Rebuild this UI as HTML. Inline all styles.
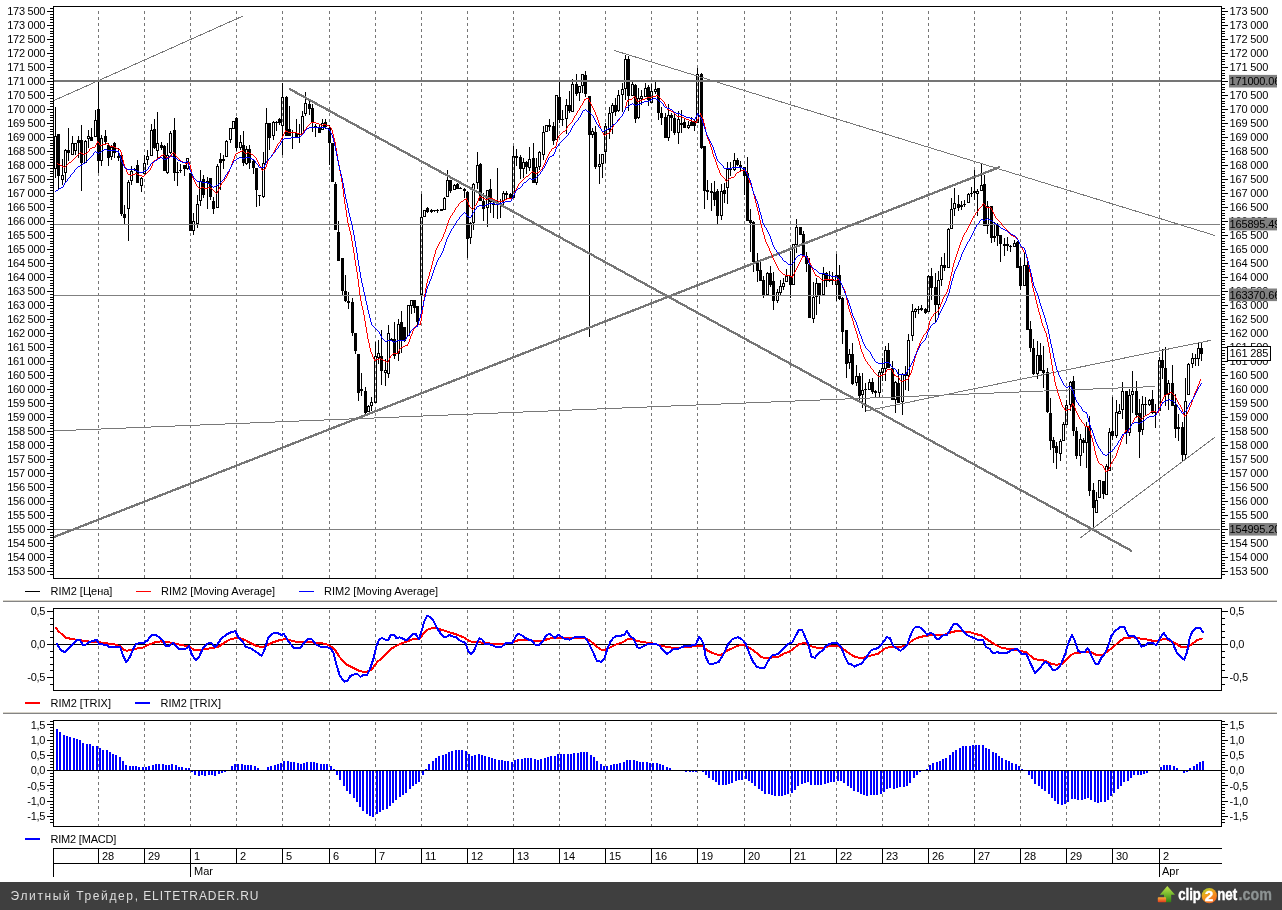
<!DOCTYPE html><html><head><meta charset="utf-8"><title>chart</title><style>
html,body{margin:0;padding:0;background:#fff;}body{width:1282px;height:910px;overflow:hidden;position:relative;font-family:"Liberation Sans",sans-serif;}
svg{position:absolute;left:0;top:0;display:block}#main{will-change:transform}
text{font-family:"Liberation Sans",sans-serif;font-size:11px;fill:#000;letter-spacing:-0.15px}
.l{letter-spacing:0}.m{letter-spacing:-0.2px}
</style></head><body>
<svg id="main" width="1282" height="910" viewBox="0 0 1282 910">
<path d="M98.5 11V578M144.5 11V578M190.5 11V578M236.5 11V578M282.5 11V578M329.5 11V578M375.5 11V578M421.5 11V578M467.5 11V578M513.5 11V578M559.5 11V578M605.5 11V578M651.5 11V578M697.5 11V578M744.5 11V578M790.5 11V578M836.5 11V578M882.5 11V578M928.5 11V578M974.5 11V578M1020.5 11V578M1066.5 11V578M1112.5 11V578M1159.5 11V578" stroke="#767676" stroke-width="1" stroke-dasharray="3 3" fill="none" shape-rendering="crispEdges"/>
<g shape-rendering="crispEdges"><path d="M55 107h1v29h-1zM55 169h1v9h-1zM58 176h1v13h-1zM62 159h1v16h-1zM62 180h1v5h-1zM65 149h1v1h-1zM65 173h1v9h-1zM68 128h1v22h-1zM68 153h1v8h-1zM72 136h1v7h-1zM75 151h1v4h-1zM78 136h1v4h-1zM78 143h1v15h-1zM81 125h1v15h-1zM81 163h1v28h-1zM85 140h1v1h-1zM88 130h1v6h-1zM88 139h1v9h-1zM91 128h1v9h-1zM95 110h1v10h-1zM98 81h1v28h-1zM98 161h1v12h-1zM101 135h1v3h-1zM101 161h1v5h-1zM105 130h1v6h-1zM105 142h1v3h-1zM108 143h1v2h-1zM108 158h1v8h-1zM111 145h1v2h-1zM111 157h1v3h-1zM114 142h1v1h-1zM114 153h1v5h-1zM118 148h1v8h-1zM118 158h1v3h-1zM121 214h1v2h-1zM124 205h1v9h-1zM124 218h1v6h-1zM128 180h1v2h-1zM128 209h1v32h-1zM131 166h1v5h-1zM131 181h1v4h-1zM134 168h1v1h-1zM134 170h1v1h-1zM137 160h1v5h-1zM141 177h1v1h-1zM141 186h1v6h-1zM144 155h1v8h-1zM147 150h1v6h-1zM147 160h1v5h-1zM151 124h1v6h-1zM154 119h1v10h-1zM154 148h1v1h-1zM157 112h1v31h-1zM157 151h1v7h-1zM161 142h1v3h-1zM161 148h1v2h-1zM164 145h1v1h-1zM167 143h1v12h-1zM167 173h1v1h-1zM170 131h1v2h-1zM170 153h1v1h-1zM174 118h1v12h-1zM174 173h1v8h-1zM177 162h1v10h-1zM177 173h1v13h-1zM180 164h1v6h-1zM180 171h1v2h-1zM184 169h1v7h-1zM187 169h1v1h-1zM193 213h1v8h-1zM193 231h1v4h-1zM197 195h1v9h-1zM197 224h1v4h-1zM200 170h1v11h-1zM200 201h1v5h-1zM203 175h1v4h-1zM203 195h1v3h-1zM207 177h1v4h-1zM207 183h1v26h-1zM210 197h1v3h-1zM213 197h1v4h-1zM213 209h1v5h-1zM217 164h1v2h-1zM220 153h1v6h-1zM220 163h1v27h-1zM223 155h1v4h-1zM223 161h1v8h-1zM226 140h1v1h-1zM230 140h1v3h-1zM236 117h1v1h-1zM236 148h1v3h-1zM240 135h1v7h-1zM240 148h1v2h-1zM243 131h1v14h-1zM243 163h1v3h-1zM246 146h1v3h-1zM246 164h1v1h-1zM249 145h1v4h-1zM249 163h1v6h-1zM253 159h1v2h-1zM253 168h1v6h-1zM256 190h1v17h-1zM259 196h1v10h-1zM263 152h1v11h-1zM263 197h1v1h-1zM266 108h1v15h-1zM269 138h1v12h-1zM273 121h1v1h-1zM273 136h1v4h-1zM276 121h1v1h-1zM276 123h1v8h-1zM279 118h1v1h-1zM279 123h1v2h-1zM282 83h1v14h-1zM282 126h1v29h-1zM286 96h1v1h-1zM289 106h1v23h-1zM292 130h1v2h-1zM292 133h1v16h-1zM296 119h1v14h-1zM299 124h1v10h-1zM299 135h1v8h-1zM302 111h1v5h-1zM305 92h1v11h-1zM305 114h1v2h-1zM309 101h1v3h-1zM309 109h1v6h-1zM312 104h1v4h-1zM312 123h1v9h-1zM315 124h1v2h-1zM315 128h1v9h-1zM319 125h1v3h-1zM322 119h1v4h-1zM325 119h1v3h-1zM325 127h1v2h-1zM329 125h1v3h-1zM329 143h1v22h-1zM335 182h1v2h-1zM338 221h1v11h-1zM342 291h1v4h-1zM345 275h1v16h-1zM345 301h1v1h-1zM348 292h1v9h-1zM348 303h1v6h-1zM352 298h1v4h-1zM352 333h1v3h-1zM355 351h1v3h-1zM358 393h1v8h-1zM361 373h1v16h-1zM361 391h1v5h-1zM365 387h1v4h-1zM365 413h1v1h-1zM368 405h1v1h-1zM371 397h1v5h-1zM371 406h1v5h-1zM375 342h1v14h-1zM378 340h1v13h-1zM378 358h1v6h-1zM381 330h1v26h-1zM381 371h1v14h-1zM385 359h1v11h-1zM385 373h1v13h-1zM388 325h1v8h-1zM388 374h1v4h-1zM391 338h1v1h-1zM394 322h1v17h-1zM394 356h1v3h-1zM398 319h1v5h-1zM398 354h1v7h-1zM401 311h1v11h-1zM401 340h1v13h-1zM404 341h1v1h-1zM411 306h1v8h-1zM414 308h1v5h-1zM417 322h1v3h-1zM421 194h1v23h-1zM421 295h1v16h-1zM427 207h1v1h-1zM427 212h1v1h-1zM431 209h1v1h-1zM431 212h1v1h-1zM434 211h1v1h-1zM437 209h1v1h-1zM437 211h1v2h-1zM444 197h1v1h-1zM447 170h1v10h-1zM450 191h1v2h-1zM454 184h1v1h-1zM457 183h1v1h-1zM460 187h1v1h-1zM464 188h1v1h-1zM464 191h1v7h-1zM467 191h1v1h-1zM467 239h1v19h-1zM470 222h1v1h-1zM470 238h1v6h-1zM473 183h1v1h-1zM473 223h1v7h-1zM477 152h1v13h-1zM477 183h1v6h-1zM480 163h1v1h-1zM483 193h1v8h-1zM483 209h1v12h-1zM487 208h1v19h-1zM490 179h1v10h-1zM490 202h1v11h-1zM493 201h1v2h-1zM493 205h1v13h-1zM497 168h1v33h-1zM497 205h1v14h-1zM500 199h1v2h-1zM500 202h1v16h-1zM503 191h1v2h-1zM503 201h1v4h-1zM506 191h1v2h-1zM506 195h1v4h-1zM510 193h1v1h-1zM513 146h1v10h-1zM516 149h1v7h-1zM516 158h1v8h-1zM520 155h1v2h-1zM520 169h1v10h-1zM523 158h1v4h-1zM523 169h1v9h-1zM526 161h1v1h-1zM526 167h1v7h-1zM529 147h1v12h-1zM529 168h1v3h-1zM533 143h1v15h-1zM536 158h1v9h-1zM536 183h1v2h-1zM539 151h1v1h-1zM539 167h1v3h-1zM543 126h1v6h-1zM543 155h1v5h-1zM549 119h1v6h-1zM549 127h1v4h-1zM553 122h1v4h-1zM553 141h1v4h-1zM559 82h1v15h-1zM559 120h1v3h-1zM562 110h1v9h-1zM562 120h1v6h-1zM566 99h1v6h-1zM566 119h1v15h-1zM569 91h1v14h-1zM569 111h1v2h-1zM572 79h1v5h-1zM576 74h1v10h-1zM576 94h1v2h-1zM579 93h1v8h-1zM582 86h1v7h-1zM585 71h1v4h-1zM585 94h1v3h-1zM589 135h1v202h-1zM592 128h1v3h-1zM592 135h1v3h-1zM595 126h1v6h-1zM595 167h1v2h-1zM599 154h1v10h-1zM599 167h1v17h-1zM602 164h1v14h-1zM605 123h1v3h-1zM605 152h1v11h-1zM609 107h1v6h-1zM609 130h1v9h-1zM612 103h1v2h-1zM612 113h1v21h-1zM615 98h1v7h-1zM615 112h1v4h-1zM618 90h1v5h-1zM618 111h1v1h-1zM622 83h1v6h-1zM622 95h1v17h-1zM625 55h1v4h-1zM625 89h1v11h-1zM628 56h1v3h-1zM628 96h1v15h-1zM632 82h1v2h-1zM635 84h1v1h-1zM635 119h1v4h-1zM638 88h1v10h-1zM638 118h1v1h-1zM641 90h1v6h-1zM641 99h1v6h-1zM645 83h1v5h-1zM648 85h1v2h-1zM648 100h1v6h-1zM651 84h1v7h-1zM655 82h1v7h-1zM655 92h1v2h-1zM658 113h1v7h-1zM661 107h1v6h-1zM661 118h1v7h-1zM665 113h1v4h-1zM668 104h1v11h-1zM668 138h1v3h-1zM671 113h1v2h-1zM671 118h1v13h-1zM674 114h1v4h-1zM674 133h1v2h-1zM678 111h1v8h-1zM678 133h1v11h-1zM681 110h1v13h-1zM681 125h1v8h-1zM684 118h1v4h-1zM688 121h1v4h-1zM688 128h1v1h-1zM691 117h1v5h-1zM694 120h1v1h-1zM694 126h1v5h-1zM697 68h1v6h-1zM701 73h1v1h-1zM701 148h1v1h-1zM704 191h1v18h-1zM707 180h1v10h-1zM707 192h1v8h-1zM711 183h1v8h-1zM711 193h1v18h-1zM714 181h1v11h-1zM714 200h1v6h-1zM717 189h1v2h-1zM717 216h1v8h-1zM721 184h1v7h-1zM721 216h1v4h-1zM724 183h1v7h-1zM724 194h1v9h-1zM727 162h1v7h-1zM727 188h1v16h-1zM730 162h1v6h-1zM730 170h1v6h-1zM734 153h1v7h-1zM734 170h1v1h-1zM737 158h1v2h-1zM737 165h1v1h-1zM740 161h1v4h-1zM740 167h1v4h-1zM744 176h1v19h-1zM747 157h1v16h-1zM750 209h1v11h-1zM750 223h1v29h-1zM753 221h1v1h-1zM753 262h1v10h-1zM757 253h1v9h-1zM757 271h1v11h-1zM760 262h1v8h-1zM763 276h1v4h-1zM763 295h1v3h-1zM767 272h1v1h-1zM770 266h1v7h-1zM770 285h1v2h-1zM773 272h1v9h-1zM773 301h1v9h-1zM777 289h1v3h-1zM777 301h1v2h-1zM780 280h1v6h-1zM780 293h1v2h-1zM783 278h1v5h-1zM783 287h1v3h-1zM786 269h1v7h-1zM790 251h1v25h-1zM790 285h1v13h-1zM796 219h1v8h-1zM796 245h1v8h-1zM803 231h1v3h-1zM806 252h1v4h-1zM806 264h1v8h-1zM809 258h1v6h-1zM813 282h1v15h-1zM813 319h1v4h-1zM816 278h1v5h-1zM816 297h1v18h-1zM819 295h1v9h-1zM823 267h1v7h-1zM826 272h1v1h-1zM826 281h1v6h-1zM829 271h1v8h-1zM829 281h1v1h-1zM832 272h1v7h-1zM832 281h1v4h-1zM836 254h1v21h-1zM836 285h1v16h-1zM839 265h1v10h-1zM839 299h1v1h-1zM842 297h1v1h-1zM842 332h1v12h-1zM846 364h1v14h-1zM849 349h1v5h-1zM849 363h1v6h-1zM852 343h1v11h-1zM852 384h1v1h-1zM856 365h1v11h-1zM856 383h1v3h-1zM859 373h1v3h-1zM859 396h1v5h-1zM862 373h1v17h-1zM862 395h1v13h-1zM865 383h1v6h-1zM865 390h1v22h-1zM869 379h1v3h-1zM872 378h1v4h-1zM872 392h1v2h-1zM875 390h1v1h-1zM875 393h1v4h-1zM879 370h1v2h-1zM879 393h1v5h-1zM882 358h1v10h-1zM882 373h1v8h-1zM885 346h1v4h-1zM885 369h1v12h-1zM888 343h1v7h-1zM892 361h1v7h-1zM895 381h1v1h-1zM895 400h1v13h-1zM898 369h1v14h-1zM902 373h1v1h-1zM902 402h1v13h-1zM905 366h1v8h-1zM905 376h1v14h-1zM908 334h1v6h-1zM908 376h1v15h-1zM912 304h1v7h-1zM912 336h1v5h-1zM915 308h1v1h-1zM915 312h1v6h-1zM918 306h1v3h-1zM918 310h1v4h-1zM921 305h1v3h-1zM921 310h1v1h-1zM925 308h1v1h-1zM925 313h1v1h-1zM928 275h1v1h-1zM931 268h1v8h-1zM931 288h1v12h-1zM935 273h1v14h-1zM935 305h1v17h-1zM938 271h1v9h-1zM938 305h1v11h-1zM941 257h1v8h-1zM941 280h1v6h-1zM944 253h1v12h-1zM944 268h1v3h-1zM948 228h1v1h-1zM951 198h1v11h-1zM954 188h1v15h-1zM954 209h1v7h-1zM958 195h1v9h-1zM958 208h1v3h-1zM961 201h1v4h-1zM961 207h1v3h-1zM964 200h1v4h-1zM964 205h1v2h-1zM968 193h1v1h-1zM971 187h1v6h-1zM971 194h1v3h-1zM974 170h1v21h-1zM974 193h1v7h-1zM977 189h1v2h-1zM977 194h1v22h-1zM981 164h1v21h-1zM984 175h1v9h-1zM987 201h1v5h-1zM987 226h1v8h-1zM991 238h1v5h-1zM994 222h1v14h-1zM994 238h1v4h-1zM997 223h1v1h-1zM997 236h1v10h-1zM1000 244h1v18h-1zM1004 238h1v6h-1zM1004 246h1v10h-1zM1007 237h1v7h-1zM1007 246h1v5h-1zM1010 245h1v1h-1zM1010 247h1v5h-1zM1014 240h1v3h-1zM1017 241h1v1h-1zM1020 258h1v8h-1zM1020 286h1v4h-1zM1024 253h1v12h-1zM1027 261h1v4h-1zM1030 321h1v8h-1zM1030 348h1v4h-1zM1033 339h1v9h-1zM1033 374h1v1h-1zM1037 341h1v14h-1zM1037 374h1v5h-1zM1040 343h1v12h-1zM1043 346h1v24h-1zM1043 373h1v15h-1zM1047 368h1v4h-1zM1047 412h1v1h-1zM1050 398h1v15h-1zM1050 441h1v9h-1zM1053 437h1v3h-1zM1053 448h1v15h-1zM1056 442h1v4h-1zM1056 453h1v16h-1zM1060 439h1v2h-1zM1060 454h1v7h-1zM1063 422h1v2h-1zM1066 400h1v5h-1zM1070 381h1v1h-1zM1070 405h1v6h-1zM1073 376h1v5h-1zM1073 431h1v5h-1zM1076 427h1v4h-1zM1076 456h1v3h-1zM1080 434h1v5h-1zM1080 456h1v10h-1zM1083 438h1v2h-1zM1083 443h1v10h-1zM1086 422h1v4h-1zM1086 443h1v25h-1zM1089 416h1v10h-1zM1089 491h1v5h-1zM1093 483h1v7h-1zM1093 508h1v20h-1zM1096 492h1v8h-1zM1103 494h1v5h-1zM1106 464h1v2h-1zM1109 428h1v4h-1zM1112 397h1v34h-1zM1112 436h1v4h-1zM1116 400h1v12h-1zM1116 436h1v2h-1zM1119 404h1v7h-1zM1122 382h1v9h-1zM1122 410h1v9h-1zM1126 433h1v11h-1zM1129 389h1v6h-1zM1129 433h1v3h-1zM1132 371h1v20h-1zM1132 395h1v18h-1zM1136 381h1v10h-1zM1136 415h1v3h-1zM1139 399h1v14h-1zM1139 432h1v26h-1zM1142 396h1v8h-1zM1142 430h1v5h-1zM1145 397h1v7h-1zM1145 405h1v10h-1zM1149 399h1v1h-1zM1149 405h1v1h-1zM1152 390h1v9h-1zM1152 413h1v1h-1zM1155 404h1v8h-1zM1155 413h1v15h-1zM1159 357h1v3h-1zM1162 349h1v11h-1zM1162 368h1v11h-1zM1165 347h1v21h-1zM1165 395h1v11h-1zM1168 380h1v3h-1zM1168 395h1v15h-1zM1172 365h1v18h-1zM1175 394h1v11h-1zM1175 429h1v9h-1zM1178 414h1v13h-1zM1178 429h1v12h-1zM1182 422h1v5h-1zM1182 455h1v6h-1zM1185 378h1v23h-1zM1185 455h1v4h-1zM1188 363h1v1h-1zM1192 353h1v5h-1zM1192 364h1v4h-1zM1195 354h1v4h-1zM1195 359h1v7h-1zM1198 343h1v5h-1zM1198 359h1v7h-1zM1201 343h1v5h-1zM1201 354h1v7h-1z" fill="#000"/><path d="M54 136h3v1h-3zM54 168h3v1h-3zM54 137h1v31h-1zM56 137h1v31h-1zM57 134h3v42h-3zM61 175h3v1h-3zM61 179h3v1h-3zM61 176h1v3h-1zM63 176h1v3h-1zM64 150h3v1h-3zM64 172h3v1h-3zM64 151h1v21h-1zM66 151h1v21h-1zM67 150h3v3h-3zM71 143h3v1h-3zM71 154h3v1h-3zM71 144h1v10h-1zM73 144h1v10h-1zM74 143h3v1h-3zM74 150h3v1h-3zM74 144h1v6h-1zM76 144h1v6h-1zM77 140h3v3h-3zM80 140h3v23h-3zM84 141h3v1h-3zM84 162h3v1h-3zM84 142h1v20h-1zM86 142h1v20h-1zM87 136h3v1h-3zM87 138h3v1h-3zM87 137h1v1h-1zM89 137h1v1h-1zM90 137h3v4h-3zM94 120h3v1h-3zM94 136h3v1h-3zM94 121h1v15h-1zM96 121h1v15h-1zM97 109h3v52h-3zM100 138h3v1h-3zM100 160h3v1h-3zM100 139h1v21h-1zM102 139h1v21h-1zM104 136h3v6h-3zM107 145h3v13h-3zM110 147h3v1h-3zM110 156h3v1h-3zM110 148h1v8h-1zM112 148h1v8h-1zM113 143h3v10h-3zM117 156h3v2h-3zM120 155h3v59h-3zM123 214h3v4h-3zM127 182h3v1h-3zM127 208h3v1h-3zM127 183h1v25h-1zM129 183h1v25h-1zM130 171h3v1h-3zM130 180h3v1h-3zM130 172h1v8h-1zM132 172h1v8h-1zM133 169h3v1h-3zM136 165h3v18h-3zM140 178h3v1h-3zM140 185h3v1h-3zM140 179h1v6h-1zM142 179h1v6h-1zM143 163h3v1h-3zM143 173h3v1h-3zM143 164h1v9h-1zM145 164h1v9h-1zM146 156h3v1h-3zM146 159h3v1h-3zM146 157h1v2h-1zM148 157h1v2h-1zM150 130h3v1h-3zM150 155h3v1h-3zM150 131h1v24h-1zM152 131h1v24h-1zM153 129h3v19h-3zM156 143h3v1h-3zM156 150h3v1h-3zM156 144h1v6h-1zM158 144h1v6h-1zM160 145h3v3h-3zM163 146h3v25h-3zM166 155h3v1h-3zM166 172h3v1h-3zM166 156h1v16h-1zM168 156h1v16h-1zM169 133h3v1h-3zM169 152h3v1h-3zM169 134h1v18h-1zM171 134h1v18h-1zM173 130h3v43h-3zM176 172h3v1h-3zM179 170h3v1h-3zM183 165h3v4h-3zM186 158h3v1h-3zM186 168h3v1h-3zM186 159h1v9h-1zM188 159h1v9h-1zM189 173h3v58h-3zM192 221h3v1h-3zM192 230h3v1h-3zM192 222h1v8h-1zM194 222h1v8h-1zM196 204h3v1h-3zM196 223h3v1h-3zM196 205h1v18h-1zM198 205h1v18h-1zM199 181h3v1h-3zM199 200h3v1h-3zM199 182h1v18h-1zM201 182h1v18h-1zM202 179h3v16h-3zM206 181h3v2h-3zM209 178h3v19h-3zM212 201h3v8h-3zM216 166h3v1h-3zM216 207h3v1h-3zM216 167h1v40h-1zM218 167h1v40h-1zM219 159h3v4h-3zM222 159h3v2h-3zM225 141h3v1h-3zM225 156h3v1h-3zM225 142h1v14h-1zM227 142h1v14h-1zM229 128h3v1h-3zM229 139h3v1h-3zM229 129h1v10h-1zM231 129h1v10h-1zM232 121h3v1h-3zM232 128h3v1h-3zM232 122h1v6h-1zM234 122h1v6h-1zM235 118h3v30h-3zM239 142h3v1h-3zM239 147h3v1h-3zM239 143h1v4h-1zM241 143h1v4h-1zM242 145h3v18h-3zM245 149h3v1h-3zM245 163h3v1h-3zM245 150h1v13h-1zM247 150h1v13h-1zM248 149h3v14h-3zM252 161h3v7h-3zM255 168h3v22h-3zM258 195h3v1h-3zM262 163h3v1h-3zM262 196h3v1h-3zM262 164h1v32h-1zM264 164h1v32h-1zM265 123h3v1h-3zM265 162h3v1h-3zM265 124h1v38h-1zM267 124h1v38h-1zM268 123h3v15h-3zM272 122h3v1h-3zM272 135h3v1h-3zM272 123h1v12h-1zM274 123h1v12h-1zM275 122h3v1h-3zM278 119h3v4h-3zM281 97h3v1h-3zM281 125h3v1h-3zM281 98h1v27h-1zM283 98h1v27h-1zM285 97h3v39h-3zM288 129h3v7h-3zM291 132h3v1h-3zM295 133h3v5h-3zM298 134h3v1h-3zM301 116h3v1h-3zM301 133h3v1h-3zM301 117h1v16h-1zM303 117h1v16h-1zM304 103h3v1h-3zM304 113h3v1h-3zM304 104h1v9h-1zM306 104h1v9h-1zM308 104h3v5h-3zM311 108h3v15h-3zM314 126h3v2h-3zM318 128h3v5h-3zM321 123h3v1h-3zM321 129h3v1h-3zM321 124h1v5h-1zM323 124h1v5h-1zM324 122h3v5h-3zM328 128h3v15h-3zM331 143h3v39h-3zM334 184h3v46h-3zM337 232h3v29h-3zM341 258h3v33h-3zM344 291h3v10h-3zM347 301h3v2h-3zM351 302h3v31h-3zM354 333h3v18h-3zM357 354h3v39h-3zM360 389h3v2h-3zM364 391h3v22h-3zM367 406h3v1h-3zM367 411h3v1h-3zM367 407h1v4h-1zM369 407h1v4h-1zM370 402h3v1h-3zM370 405h3v1h-3zM370 403h1v2h-1zM372 403h1v2h-1zM374 356h3v1h-3zM374 402h3v1h-3zM374 357h1v45h-1zM376 357h1v45h-1zM377 353h3v1h-3zM377 357h3v1h-3zM377 354h1v3h-1zM379 354h1v3h-1zM380 356h3v15h-3zM384 370h3v1h-3zM384 372h3v1h-3zM384 371h1v1h-1zM386 371h1v1h-1zM387 333h3v1h-3zM387 373h3v1h-3zM387 334h1v39h-1zM389 334h1v39h-1zM390 339h3v2h-3zM393 339h3v17h-3zM397 324h3v1h-3zM397 353h3v1h-3zM397 325h1v28h-1zM399 325h1v28h-1zM400 322h3v18h-3zM403 327h3v14h-3zM407 305h3v1h-3zM407 335h3v1h-3zM407 306h1v29h-1zM409 306h1v29h-1zM410 300h3v1h-3zM410 305h3v1h-3zM410 301h1v4h-1zM412 301h1v4h-1zM413 300h3v8h-3zM416 306h3v16h-3zM420 217h3v1h-3zM420 294h3v1h-3zM420 218h1v76h-1zM422 218h1v76h-1zM423 210h3v1h-3zM423 216h3v1h-3zM423 211h1v5h-1zM425 211h1v5h-1zM426 208h3v4h-3zM430 210h3v2h-3zM433 210h3v1h-3zM436 210h3v1h-3zM440 209h3v2h-3zM443 198h3v1h-3zM443 209h3v1h-3zM443 199h1v10h-1zM445 199h1v10h-1zM446 180h3v1h-3zM446 196h3v1h-3zM446 181h1v15h-1zM448 181h1v15h-1zM449 180h3v11h-3zM453 185h3v1h-3zM453 189h3v1h-3zM453 186h1v3h-1zM455 186h1v3h-1zM456 184h3v5h-3zM459 188h3v1h-3zM463 189h3v2h-3zM466 192h3v47h-3zM469 223h3v1h-3zM469 237h3v1h-3zM469 224h1v13h-1zM471 224h1v13h-1zM472 184h3v1h-3zM472 222h3v1h-3zM472 185h1v37h-1zM474 185h1v37h-1zM476 165h3v1h-3zM476 182h3v1h-3zM476 166h1v16h-1zM478 166h1v16h-1zM479 164h3v37h-3zM482 201h3v8h-3zM486 190h3v1h-3zM486 207h3v1h-3zM486 191h1v16h-1zM488 191h1v16h-1zM489 189h3v13h-3zM492 203h3v2h-3zM496 201h3v4h-3zM499 201h3v1h-3zM502 193h3v1h-3zM502 200h3v1h-3zM502 194h1v6h-1zM504 194h1v6h-1zM505 193h3v2h-3zM509 194h3v5h-3zM512 156h3v1h-3zM512 197h3v1h-3zM512 157h1v40h-1zM514 157h1v40h-1zM515 156h3v2h-3zM519 157h3v12h-3zM522 162h3v1h-3zM522 168h3v1h-3zM522 163h1v5h-1zM524 163h1v5h-1zM525 162h3v5h-3zM528 159h3v1h-3zM528 167h3v1h-3zM528 160h1v7h-1zM530 160h1v7h-1zM532 158h3v25h-3zM535 167h3v1h-3zM535 182h3v1h-3zM535 168h1v14h-1zM537 168h1v14h-1zM538 152h3v1h-3zM538 166h3v1h-3zM538 153h1v13h-1zM540 153h1v13h-1zM542 132h3v1h-3zM542 154h3v1h-3zM542 133h1v21h-1zM544 133h1v21h-1zM545 125h3v1h-3zM545 131h3v1h-3zM545 126h1v5h-1zM547 126h1v5h-1zM548 125h3v2h-3zM552 126h3v15h-3zM555 95h3v1h-3zM555 139h3v1h-3zM555 96h1v43h-1zM557 96h1v43h-1zM558 97h3v23h-3zM561 119h3v1h-3zM565 105h3v1h-3zM565 118h3v1h-3zM565 106h1v12h-1zM567 106h1v12h-1zM568 105h3v6h-3zM571 84h3v1h-3zM571 111h3v1h-3zM571 85h1v26h-1zM573 85h1v26h-1zM575 84h3v10h-3zM578 86h3v1h-3zM578 92h3v1h-3zM578 87h1v5h-1zM580 87h1v5h-1zM581 74h3v1h-3zM581 85h3v1h-3zM581 75h1v10h-1zM583 75h1v10h-1zM584 75h3v19h-3zM588 96h3v39h-3zM591 131h3v1h-3zM591 134h3v1h-3zM591 132h1v2h-1zM593 132h1v2h-1zM594 132h3v35h-3zM598 164h3v1h-3zM598 166h3v1h-3zM598 165h1v1h-1zM600 165h1v1h-1zM601 154h3v1h-3zM601 163h3v1h-3zM601 155h1v8h-1zM603 155h1v8h-1zM604 126h3v1h-3zM604 151h3v1h-3zM604 127h1v24h-1zM606 127h1v24h-1zM608 113h3v1h-3zM608 129h3v1h-3zM608 114h1v15h-1zM610 114h1v15h-1zM611 105h3v1h-3zM611 112h3v1h-3zM611 106h1v6h-1zM613 106h1v6h-1zM614 105h3v7h-3zM617 95h3v1h-3zM617 110h3v1h-3zM617 96h1v14h-1zM619 96h1v14h-1zM621 89h3v1h-3zM621 94h3v1h-3zM621 90h1v4h-1zM623 90h1v4h-1zM624 59h3v1h-3zM624 88h3v1h-3zM624 60h1v28h-1zM626 60h1v28h-1zM627 59h3v37h-3zM631 84h3v1h-3zM631 95h3v1h-3zM631 85h1v10h-1zM633 85h1v10h-1zM634 85h3v34h-3zM637 98h3v1h-3zM637 117h3v1h-3zM637 99h1v18h-1zM639 99h1v18h-1zM640 96h3v1h-3zM640 98h3v1h-3zM640 97h1v1h-1zM642 97h1v1h-1zM644 88h3v1h-3zM644 96h3v1h-3zM644 89h1v7h-1zM646 89h1v7h-1zM647 87h3v13h-3zM650 91h3v1h-3zM650 102h3v1h-3zM650 92h1v10h-1zM652 92h1v10h-1zM654 89h3v1h-3zM654 91h3v1h-3zM654 90h1v1h-1zM656 90h1v1h-1zM657 88h3v25h-3zM660 113h3v5h-3zM664 117h3v21h-3zM667 115h3v1h-3zM667 137h3v1h-3zM667 116h1v21h-1zM669 116h1v21h-1zM670 115h3v3h-3zM673 118h3v15h-3zM677 119h3v1h-3zM677 132h3v1h-3zM677 120h1v12h-1zM679 120h1v12h-1zM680 123h3v2h-3zM683 122h3v6h-3zM687 125h3v1h-3zM687 127h3v1h-3zM687 126h1v1h-1zM689 126h1v1h-1zM690 122h3v4h-3zM693 121h3v5h-3zM696 74h3v1h-3zM696 122h3v1h-3zM696 75h1v47h-1zM698 75h1v47h-1zM700 74h3v74h-3zM703 146h3v45h-3zM706 190h3v2h-3zM710 191h3v2h-3zM713 192h3v8h-3zM716 191h3v25h-3zM720 191h3v1h-3zM720 215h3v1h-3zM720 192h1v23h-1zM722 192h1v23h-1zM723 190h3v4h-3zM726 169h3v1h-3zM726 187h3v1h-3zM726 170h1v17h-1zM728 170h1v17h-1zM729 168h3v2h-3zM733 160h3v1h-3zM733 169h3v1h-3zM733 161h1v8h-1zM735 161h1v8h-1zM736 160h3v5h-3zM739 165h3v2h-3zM743 167h3v9h-3zM746 173h3v48h-3zM749 220h3v3h-3zM752 222h3v40h-3zM756 262h3v9h-3zM759 270h3v11h-3zM762 280h3v15h-3zM766 273h3v1h-3zM766 294h3v1h-3zM766 274h1v20h-1zM768 274h1v20h-1zM769 273h3v12h-3zM772 281h3v20h-3zM776 292h3v1h-3zM776 300h3v1h-3zM776 293h1v7h-1zM778 293h1v7h-1zM779 286h3v1h-3zM779 292h3v1h-3zM779 287h1v5h-1zM781 287h1v5h-1zM782 283h3v1h-3zM782 286h3v1h-3zM782 284h1v2h-1zM784 284h1v2h-1zM785 276h3v1h-3zM785 281h3v1h-3zM785 277h1v4h-1zM787 277h1v4h-1zM789 276h3v9h-3zM792 244h3v1h-3zM792 284h3v1h-3zM792 245h1v39h-1zM794 245h1v39h-1zM795 227h3v1h-3zM795 244h3v1h-3zM795 228h1v16h-1zM797 228h1v16h-1zM799 227h3v8h-3zM802 234h3v22h-3zM805 256h3v8h-3zM808 264h3v54h-3zM812 297h3v1h-3zM812 318h3v1h-3zM812 298h1v20h-1zM814 298h1v20h-1zM815 283h3v1h-3zM815 296h3v1h-3zM815 284h1v12h-1zM817 284h1v12h-1zM818 283h3v12h-3zM822 274h3v1h-3zM822 294h3v1h-3zM822 275h1v19h-1zM824 275h1v19h-1zM825 273h3v8h-3zM828 279h3v2h-3zM831 279h3v2h-3zM835 275h3v1h-3zM835 284h3v1h-3zM835 276h1v8h-1zM837 276h1v8h-1zM838 275h3v24h-3zM841 298h3v34h-3zM845 330h3v34h-3zM848 354h3v1h-3zM848 362h3v1h-3zM848 355h1v7h-1zM850 355h1v7h-1zM851 354h3v30h-3zM855 376h3v1h-3zM855 382h3v1h-3zM855 377h1v5h-1zM857 377h1v5h-1zM858 376h3v20h-3zM861 390h3v1h-3zM861 394h3v1h-3zM861 391h1v3h-1zM863 391h1v3h-1zM864 389h3v1h-3zM868 382h3v1h-3zM868 389h3v1h-3zM868 383h1v6h-1zM870 383h1v6h-1zM871 382h3v10h-3zM874 391h3v2h-3zM878 372h3v1h-3zM878 392h3v1h-3zM878 373h1v19h-1zM880 373h1v19h-1zM881 368h3v1h-3zM881 372h3v1h-3zM881 369h1v3h-1zM883 369h1v3h-1zM884 350h3v1h-3zM884 368h3v1h-3zM884 351h1v17h-1zM886 351h1v17h-1zM887 350h3v18h-3zM891 368h3v32h-3zM894 382h3v1h-3zM894 399h3v1h-3zM894 383h1v16h-1zM896 383h1v16h-1zM897 383h3v20h-3zM901 374h3v1h-3zM901 401h3v1h-3zM901 375h1v26h-1zM903 375h1v26h-1zM904 374h3v2h-3zM907 340h3v1h-3zM907 375h3v1h-3zM907 341h1v34h-1zM909 341h1v34h-1zM911 311h3v1h-3zM911 335h3v1h-3zM911 312h1v23h-1zM913 312h1v23h-1zM914 309h3v1h-3zM914 311h3v1h-3zM914 310h1v1h-1zM916 310h1v1h-1zM917 309h3v1h-3zM920 308h3v2h-3zM924 309h3v4h-3zM927 276h3v1h-3zM927 311h3v1h-3zM927 277h1v34h-1zM929 277h1v34h-1zM930 276h3v12h-3zM934 287h3v18h-3zM937 280h3v1h-3zM937 304h3v1h-3zM937 281h1v23h-1zM939 281h1v23h-1zM940 265h3v1h-3zM940 279h3v1h-3zM940 266h1v13h-1zM942 266h1v13h-1zM943 265h3v3h-3zM947 229h3v1h-3zM947 267h3v1h-3zM947 230h1v37h-1zM949 230h1v37h-1zM950 209h3v1h-3zM950 228h3v1h-3zM950 210h1v18h-1zM952 210h1v18h-1zM953 203h3v1h-3zM953 208h3v1h-3zM953 204h1v4h-1zM955 204h1v4h-1zM957 204h3v4h-3zM960 205h3v2h-3zM963 204h3v1h-3zM967 194h3v1h-3zM967 202h3v1h-3zM967 195h1v7h-1zM969 195h1v7h-1zM970 193h3v1h-3zM973 191h3v2h-3zM976 191h3v1h-3zM976 193h3v1h-3zM976 192h1v1h-1zM978 192h1v1h-1zM980 185h3v1h-3zM980 190h3v1h-3zM980 186h1v4h-1zM982 186h1v4h-1zM983 184h3v42h-3zM986 206h3v1h-3zM986 225h3v1h-3zM986 207h1v18h-1zM988 207h1v18h-1zM990 206h3v32h-3zM993 236h3v2h-3zM996 224h3v12h-3zM999 235h3v9h-3zM1003 244h3v2h-3zM1006 244h3v2h-3zM1009 246h3v1h-3zM1013 243h3v1h-3zM1013 246h3v1h-3zM1013 244h1v2h-1zM1015 244h1v2h-1zM1016 242h3v26h-3zM1019 266h3v20h-3zM1023 265h3v1h-3zM1023 285h3v1h-3zM1023 266h1v19h-1zM1025 266h1v19h-1zM1026 265h3v65h-3zM1029 329h3v19h-3zM1032 348h3v26h-3zM1036 355h3v1h-3zM1036 373h3v1h-3zM1036 356h1v17h-1zM1038 356h1v17h-1zM1039 355h3v16h-3zM1042 370h3v3h-3zM1046 372h3v40h-3zM1049 413h3v28h-3zM1052 440h3v8h-3zM1055 446h3v7h-3zM1059 441h3v1h-3zM1059 453h3v1h-3zM1059 442h1v11h-1zM1061 442h1v11h-1zM1062 424h3v1h-3zM1062 440h3v1h-3zM1062 425h1v15h-1zM1064 425h1v15h-1zM1065 405h3v1h-3zM1065 424h3v1h-3zM1065 406h1v18h-1zM1067 406h1v18h-1zM1069 382h3v1h-3zM1069 404h3v1h-3zM1069 383h1v21h-1zM1071 383h1v21h-1zM1072 381h3v50h-3zM1075 431h3v25h-3zM1079 439h3v1h-3zM1079 455h3v1h-3zM1079 440h1v15h-1zM1081 440h1v15h-1zM1082 440h3v3h-3zM1085 426h3v1h-3zM1085 442h3v1h-3zM1085 427h1v15h-1zM1087 427h1v15h-1zM1088 426h3v65h-3zM1092 490h3v18h-3zM1095 500h3v1h-3zM1095 512h3v1h-3zM1095 501h1v11h-1zM1097 501h1v11h-1zM1098 480h3v1h-3zM1098 497h3v1h-3zM1098 481h1v16h-1zM1100 481h1v16h-1zM1102 481h3v13h-3zM1105 466h3v1h-3zM1105 494h3v1h-3zM1105 467h1v27h-1zM1107 467h1v27h-1zM1108 432h3v1h-3zM1108 470h3v1h-3zM1108 433h1v37h-1zM1110 433h1v37h-1zM1111 431h3v5h-3zM1115 412h3v1h-3zM1115 435h3v1h-3zM1115 413h1v22h-1zM1117 413h1v22h-1zM1118 411h3v1h-3zM1118 413h3v1h-3zM1118 412h1v1h-1zM1120 412h1v1h-1zM1121 391h3v1h-3zM1121 409h3v1h-3zM1121 392h1v17h-1zM1123 392h1v17h-1zM1125 391h3v42h-3zM1128 395h3v1h-3zM1128 432h3v1h-3zM1128 396h1v36h-1zM1130 396h1v36h-1zM1131 391h3v1h-3zM1131 394h3v1h-3zM1131 392h1v2h-1zM1133 392h1v2h-1zM1135 391h3v24h-3zM1138 413h3v19h-3zM1141 404h3v1h-3zM1141 429h3v1h-3zM1141 405h1v24h-1zM1143 405h1v24h-1zM1144 404h3v1h-3zM1148 400h3v1h-3zM1148 404h3v1h-3zM1148 401h1v3h-1zM1150 401h1v3h-1zM1151 399h3v14h-3zM1154 412h3v1h-3zM1158 360h3v1h-3zM1158 410h3v1h-3zM1158 361h1v49h-1zM1160 361h1v49h-1zM1161 360h3v8h-3zM1164 368h3v27h-3zM1167 383h3v1h-3zM1167 394h3v1h-3zM1167 384h1v10h-1zM1169 384h1v10h-1zM1171 383h3v23h-3zM1174 405h3v24h-3zM1177 427h3v2h-3zM1181 427h3v28h-3zM1184 401h3v1h-3zM1184 454h3v1h-3zM1184 402h1v52h-1zM1186 402h1v52h-1zM1187 364h3v1h-3zM1187 394h3v1h-3zM1187 365h1v29h-1zM1189 365h1v29h-1zM1191 358h3v1h-3zM1191 363h3v1h-3zM1191 359h1v4h-1zM1193 359h1v4h-1zM1194 358h3v1h-3zM1197 348h3v1h-3zM1197 358h3v1h-3zM1197 349h1v9h-1zM1199 349h1v9h-1zM1200 348h3v6h-3z" fill="#000"/><path d="" fill="#fff"/></g>
<g shape-rendering="crispEdges">
<rect x="54" y="80" width="1168" height="2" fill="#757575"/>
<rect x="54" y="224" width="1166" height="1" fill="#808080"/>
<rect x="54" y="295" width="1166" height="1" fill="#808080"/>
<rect x="54" y="529" width="1166" height="1" fill="#808080"/>
</g>
<line x1="54.0" y1="100.5" x2="243.0" y2="16.0" stroke="#787878" stroke-width="1" shape-rendering="crispEdges"/>
<line x1="289.2" y1="88.8" x2="1132.0" y2="551.1" stroke="#767676" stroke-width="2.3" shape-rendering="crispEdges"/>
<line x1="54.0" y1="537.0" x2="1000.2" y2="166.9" stroke="#767676" stroke-width="2.3" shape-rendering="crispEdges"/>
<line x1="54.0" y1="430.9" x2="1155.4" y2="386.5" stroke="#787878" stroke-width="1" shape-rendering="crispEdges"/>
<line x1="614.0" y1="50.4" x2="1215.0" y2="235.5" stroke="#787878" stroke-width="1" shape-rendering="crispEdges"/>
<line x1="865.7" y1="411.0" x2="1211.0" y2="340.3" stroke="#787878" stroke-width="1" shape-rendering="crispEdges"/>
<line x1="1080.0" y1="538.2" x2="1215.0" y2="437.2" stroke="#787878" stroke-width="1" shape-rendering="crispEdges"/>
<path d="M656 95h2v1h-2zM634 96h1v1h-1zM652 96h4v1h-4zM658 96h1v1h-1zM633 97h1v1h-1zM647 97h5v1h-5zM659 97h1v1h-1zM635 97h1v2h-1zM586 98h2v1h-2zM632 98h1v1h-1zM645 98h2v1h-2zM660 98h1v1h-1zM588 98h1v2h-1zM585 99h1v1h-1zM629 99h3v1h-3zM642 99h3v1h-3zM661 99h1v1h-1zM584 99h1v2h-1zM636 99h1v2h-1zM628 100h1v1h-1zM639 100h3v1h-3zM662 100h1v1h-1zM589 100h1v2h-1zM627 100h1v2h-1zM637 101h2v1h-2zM663 101h1v1h-1zM583 101h1v2h-1zM590 102h1v2h-1zM664 102h1v2h-1zM626 102h1v4h-1zM582 103h1v2h-1zM591 104h1v2h-1zM665 104h1v2h-1zM581 105h1v1h-1zM580 106h1v2h-1zM592 106h1v2h-1zM666 106h1v2h-1zM625 106h1v4h-1zM579 108h1v2h-1zM593 108h1v2h-1zM667 108h1v2h-1zM668 109h1v1h-1zM578 110h1v1h-1zM669 110h2v1h-2zM594 110h1v2h-1zM624 110h1v2h-1zM671 111h2v1h-2zM577 111h1v2h-1zM673 112h1v1h-1zM623 112h1v2h-1zM595 112h1v3h-1zM674 113h1v1h-1zM576 113h1v2h-1zM700 113h1v2h-1zM675 114h1v1h-1zM622 114h1v2h-1zM575 115h1v1h-1zM676 115h1v1h-1zM596 115h1v2h-1zM699 115h1v2h-1zM701 115h1v2h-1zM621 116h1v1h-1zM677 116h5v1h-5zM574 116h1v2h-1zM620 117h1v1h-1zM682 117h2v1h-2zM698 117h1v2h-1zM702 117h1v2h-1zM597 117h1v3h-1zM684 118h2v1h-2zM573 118h1v2h-1zM619 118h1v2h-1zM686 119h3v1h-3zM697 119h1v2h-1zM703 119h1v4h-1zM618 120h1v1h-1zM689 120h3v1h-3zM572 120h1v2h-1zM598 120h1v3h-1zM617 121h1v1h-1zM692 121h3v1h-3zM696 121h1v2h-1zM311 122h5v1h-5zM571 122h1v1h-1zM616 122h1v1h-1zM695 122h1v1h-1zM310 123h1v1h-1zM316 123h3v1h-3zM570 123h1v1h-1zM615 123h1v1h-1zM599 123h1v3h-1zM704 123h1v4h-1zM309 124h1v1h-1zM319 124h2v1h-2zM323 124h3v1h-3zM569 124h1v1h-1zM614 124h1v1h-1zM308 125h1v1h-1zM321 125h2v1h-2zM326 125h3v1h-3zM568 125h1v1h-1zM613 125h1v2h-1zM307 126h1v1h-1zM329 126h1v1h-1zM567 126h1v2h-1zM600 126h1v3h-1zM330 127h1v1h-1zM306 127h1v2h-1zM612 127h1v2h-1zM705 127h1v5h-1zM331 128h1v2h-1zM566 128h1v2h-1zM305 129h1v1h-1zM611 129h1v1h-1zM601 129h1v2h-1zM304 130h1v1h-1zM565 130h1v1h-1zM285 130h1v2h-1zM610 130h1v2h-1zM332 130h1v4h-1zM286 131h2v1h-2zM563 131h2v1h-2zM303 131h1v2h-1zM602 131h1v2h-1zM288 132h9v1h-9zM562 132h1v1h-1zM609 132h1v1h-1zM284 132h1v2h-1zM706 132h1v4h-1zM297 133h3v1h-3zM302 133h1v1h-1zM561 133h1v1h-1zM607 133h2v1h-2zM603 133h1v2h-1zM300 134h2v1h-2zM560 134h1v1h-1zM605 134h2v1h-2zM283 134h1v2h-1zM333 134h1v4h-1zM559 135h1v1h-1zM604 135h1v1h-1zM282 136h1v2h-1zM558 136h1v2h-1zM707 136h1v3h-1zM281 138h1v2h-1zM334 138h1v4h-1zM557 138h1v4h-1zM708 139h1v2h-1zM280 140h1v2h-1zM97 141h1v2h-1zM709 141h1v3h-1zM98 142h1v1h-1zM279 142h1v1h-1zM556 142h1v4h-1zM335 142h1v6h-1zM106 143h2v1h-2zM278 143h1v1h-1zM96 143h1v2h-1zM99 143h1v2h-1zM102 144h4v1h-4zM108 144h1v1h-1zM277 144h1v2h-1zM710 144h1v3h-1zM100 145h2v1h-2zM109 145h1v1h-1zM95 145h1v2h-1zM110 146h4v1h-4zM276 146h1v2h-1zM555 146h1v2h-1zM92 147h3v1h-3zM114 147h2v1h-2zM554 147h1v1h-1zM711 147h1v3h-1zM90 148h2v1h-2zM116 148h2v1h-2zM552 148h2v1h-2zM275 148h1v2h-1zM336 148h1v6h-1zM118 149h2v1h-2zM89 149h1v2h-1zM551 149h1v2h-1zM242 150h1v1h-1zM120 150h1v2h-1zM274 150h1v2h-1zM712 150h1v4h-1zM88 151h1v1h-1zM240 151h2v1h-2zM243 151h1v1h-1zM550 151h1v1h-1zM80 152h1v1h-1zM87 152h1v1h-1zM173 152h1v1h-1zM238 152h2v1h-2zM244 152h1v1h-1zM247 152h2v1h-2zM273 152h1v2h-1zM549 152h1v2h-1zM121 152h1v4h-1zM79 153h1v1h-1zM81 153h2v1h-2zM85 153h2v1h-2zM172 153h1v1h-1zM174 153h1v1h-1zM236 153h2v1h-2zM245 153h2v1h-2zM249 153h2v1h-2zM78 154h1v1h-1zM83 154h2v1h-2zM163 154h1v1h-1zM251 154h2v1h-2zM171 154h1v2h-1zM175 154h1v2h-1zM235 154h1v2h-1zM272 154h1v2h-1zM548 154h1v2h-1zM713 154h1v3h-1zM337 154h1v6h-1zM77 155h1v1h-1zM161 155h2v1h-2zM164 155h1v1h-1zM253 155h1v1h-1zM76 156h1v1h-1zM160 156h1v1h-1zM165 156h1v1h-1zM170 156h1v1h-1zM176 156h1v1h-1zM254 156h1v1h-1zM271 156h1v1h-1zM547 156h1v2h-1zM234 156h1v3h-1zM122 156h1v4h-1zM75 157h1v1h-1zM158 157h2v1h-2zM166 157h4v1h-4zM177 157h1v1h-1zM255 157h1v1h-1zM270 157h1v1h-1zM714 157h1v2h-1zM74 158h1v1h-1zM157 158h1v1h-1zM178 158h1v1h-1zM269 158h1v1h-1zM256 158h1v2h-1zM546 158h1v2h-1zM73 159h1v1h-1zM156 159h1v1h-1zM179 159h1v1h-1zM233 159h1v2h-1zM268 159h1v2h-1zM715 159h1v3h-1zM72 160h1v1h-1zM154 160h2v1h-2zM180 160h1v1h-1zM257 160h1v2h-1zM545 160h1v3h-1zM123 160h1v4h-1zM338 160h1v5h-1zM71 161h1v1h-1zM181 161h2v1h-2zM153 161h1v2h-1zM232 161h1v3h-1zM267 161h1v3h-1zM69 162h2v1h-2zM183 162h2v1h-2zM188 162h1v1h-1zM258 162h1v2h-1zM189 162h1v3h-1zM716 162h1v3h-1zM57 163h1v1h-1zM68 163h1v1h-1zM185 163h3v1h-3zM544 163h1v2h-1zM152 163h1v3h-1zM58 164h2v1h-2zM67 164h1v1h-1zM259 164h1v2h-1zM124 164h1v3h-1zM231 164h1v3h-1zM266 164h1v3h-1zM60 165h2v1h-2zM66 165h1v1h-1zM543 165h1v2h-1zM717 165h1v3h-1zM190 165h1v4h-1zM339 165h1v6h-1zM62 166h2v1h-2zM65 166h1v1h-1zM151 166h1v2h-1zM260 166h1v2h-1zM64 167h1v1h-1zM125 167h1v2h-1zM230 167h1v2h-1zM265 167h1v2h-1zM542 167h1v2h-1zM150 168h1v2h-1zM261 168h1v2h-1zM718 168h1v2h-1zM263 169h2v1h-2zM541 169h1v1h-1zM126 169h1v3h-1zM229 169h1v3h-1zM191 169h1v5h-1zM149 170h1v1h-1zM262 170h1v1h-1zM540 170h1v1h-1zM741 170h4v1h-4zM719 170h1v3h-1zM148 171h1v1h-1zM532 171h1v1h-1zM539 171h1v1h-1zM739 171h2v1h-2zM745 171h1v1h-1zM746 171h1v2h-1zM340 171h1v5h-1zM147 172h1v1h-1zM531 172h1v1h-1zM533 172h2v1h-2zM537 172h2v1h-2zM737 172h2v1h-2zM127 172h1v2h-1zM228 172h1v2h-1zM135 173h2v1h-2zM146 173h1v1h-1zM530 173h1v1h-1zM535 173h2v1h-2zM736 173h1v1h-1zM720 173h1v2h-1zM747 173h1v3h-1zM128 174h2v1h-2zM132 174h3v1h-3zM137 174h2v1h-2zM145 174h1v1h-1zM529 174h1v1h-1zM227 174h1v2h-1zM735 174h1v2h-1zM192 174h1v4h-1zM130 175h2v1h-2zM139 175h3v1h-3zM144 175h1v1h-1zM528 175h1v1h-1zM721 175h1v1h-1zM142 176h2v1h-2zM526 176h2v1h-2zM722 176h1v1h-1zM734 176h1v1h-1zM226 176h1v2h-1zM748 176h1v4h-1zM341 176h1v6h-1zM525 177h1v1h-1zM723 177h1v1h-1zM731 177h3v1h-3zM225 178h1v1h-1zM524 178h1v1h-1zM724 178h1v1h-1zM729 178h2v1h-2zM193 178h1v2h-1zM523 179h1v1h-1zM728 179h1v1h-1zM224 179h1v2h-1zM725 179h1v2h-1zM522 180h1v1h-1zM727 180h1v1h-1zM194 180h1v2h-1zM749 180h1v3h-1zM223 181h1v1h-1zM521 181h1v1h-1zM726 181h1v1h-1zM222 182h1v1h-1zM520 182h1v1h-1zM195 182h1v2h-1zM342 182h1v7h-1zM519 183h1v1h-1zM221 183h1v2h-1zM750 183h1v2h-1zM196 184h1v2h-1zM518 184h1v2h-1zM220 185h1v2h-1zM751 185h1v3h-1zM197 186h1v1h-1zM517 186h1v2h-1zM198 187h1v1h-1zM201 187h3v1h-3zM208 187h2v1h-2zM219 187h1v2h-1zM199 188h2v1h-2zM204 188h4v1h-4zM210 188h2v1h-2zM516 188h1v2h-1zM752 188h1v3h-1zM212 189h1v1h-1zM218 189h1v2h-1zM343 189h1v8h-1zM213 190h1v1h-1zM515 190h1v2h-1zM214 191h1v1h-1zM217 191h1v2h-1zM753 191h1v4h-1zM215 192h1v1h-1zM514 192h1v3h-1zM216 193h1v1h-1zM513 195h1v2h-1zM754 195h1v4h-1zM480 196h1v1h-1zM479 196h1v2h-1zM481 197h2v1h-2zM512 197h1v2h-1zM344 197h1v7h-1zM483 198h2v1h-2zM488 198h5v1h-5zM507 198h5v1h-5zM466 198h1v2h-1zM478 198h1v3h-1zM464 199h2v1h-2zM485 199h3v1h-3zM493 199h2v1h-2zM505 199h2v1h-2zM755 199h1v4h-1zM463 200h1v1h-1zM495 200h3v1h-3zM503 200h2v1h-2zM467 200h1v2h-1zM461 201h2v1h-2zM498 201h5v1h-5zM477 201h1v2h-1zM460 202h1v1h-1zM468 202h1v3h-1zM459 203h1v1h-1zM983 203h1v1h-1zM476 203h1v2h-1zM756 203h1v4h-1zM984 204h1v1h-1zM458 204h1v2h-1zM982 204h1v2h-1zM345 204h1v6h-1zM475 205h1v1h-1zM469 205h1v2h-1zM985 205h1v2h-1zM457 206h1v1h-1zM981 206h1v1h-1zM474 206h1v2h-1zM456 207h1v1h-1zM470 207h1v1h-1zM980 207h1v1h-1zM986 207h5v1h-5zM757 207h1v4h-1zM471 208h1v1h-1zM473 208h1v1h-1zM979 208h1v1h-1zM455 208h1v2h-1zM991 208h1v2h-1zM472 209h1v1h-1zM978 209h1v2h-1zM454 210h1v2h-1zM992 210h1v2h-1zM346 210h1v7h-1zM977 211h1v1h-1zM758 211h1v4h-1zM453 212h1v1h-1zM976 212h1v1h-1zM993 212h1v2h-1zM452 213h1v2h-1zM975 213h1v2h-1zM994 214h1v2h-1zM451 215h1v1h-1zM974 215h1v1h-1zM759 215h1v5h-1zM450 216h1v2h-1zM973 216h1v2h-1zM995 216h1v2h-1zM347 217h1v6h-1zM996 218h1v1h-1zM449 218h1v2h-1zM972 218h1v2h-1zM997 219h1v1h-1zM998 220h1v1h-1zM971 220h1v2h-1zM448 220h1v3h-1zM760 220h1v4h-1zM999 221h1v1h-1zM1000 222h1v1h-1zM970 222h1v2h-1zM1001 223h1v2h-1zM447 223h1v3h-1zM348 223h1v4h-1zM969 224h1v2h-1zM761 224h1v4h-1zM1002 225h1v1h-1zM1003 226h1v1h-1zM968 226h1v2h-1zM446 226h1v3h-1zM1004 227h1v1h-1zM349 227h1v4h-1zM1005 228h1v1h-1zM967 228h1v2h-1zM762 228h1v4h-1zM1006 229h1v1h-1zM445 229h1v3h-1zM1007 230h1v1h-1zM966 230h1v2h-1zM1008 231h1v2h-1zM350 231h1v4h-1zM965 232h1v1h-1zM444 232h1v2h-1zM763 232h1v3h-1zM1009 233h1v1h-1zM964 233h1v2h-1zM1010 234h1v1h-1zM443 234h1v3h-1zM1011 235h2v1h-2zM963 235h1v2h-1zM764 235h1v4h-1zM351 235h1v6h-1zM1013 236h2v1h-2zM1015 237h2v1h-2zM442 237h1v2h-1zM962 237h1v3h-1zM1017 238h1v2h-1zM441 239h1v2h-1zM765 239h1v3h-1zM961 240h1v2h-1zM1018 240h1v2h-1zM440 241h1v1h-1zM352 241h1v6h-1zM439 242h1v2h-1zM766 242h1v2h-1zM1019 242h1v2h-1zM960 242h1v3h-1zM438 244h1v2h-1zM767 244h1v2h-1zM1020 244h1v2h-1zM959 245h1v3h-1zM437 246h1v2h-1zM768 246h1v2h-1zM1021 246h1v2h-1zM353 247h1v6h-1zM436 248h1v2h-1zM1022 248h1v2h-1zM769 248h1v3h-1zM958 248h1v3h-1zM1023 250h1v2h-1zM435 250h1v4h-1zM770 251h1v2h-1zM957 251h1v3h-1zM1024 252h1v1h-1zM1025 253h1v1h-1zM771 253h1v2h-1zM354 253h1v7h-1zM434 254h1v3h-1zM956 254h1v3h-1zM1026 254h1v3h-1zM772 255h1v3h-1zM803 256h3v1h-3zM802 256h1v2h-1zM806 257h2v1h-2zM955 257h1v3h-1zM433 257h1v4h-1zM1027 257h1v5h-1zM773 258h1v2h-1zM801 258h1v2h-1zM808 258h1v2h-1zM774 260h1v2h-1zM800 260h1v2h-1zM809 260h1v3h-1zM954 260h1v3h-1zM355 260h1v6h-1zM432 261h1v4h-1zM775 262h1v2h-1zM799 262h1v2h-1zM1028 262h1v5h-1zM810 263h1v2h-1zM953 263h1v4h-1zM776 264h1v2h-1zM798 264h1v2h-1zM811 265h1v3h-1zM431 265h1v4h-1zM777 266h1v2h-1zM797 266h1v2h-1zM356 266h1v6h-1zM952 267h1v5h-1zM1029 267h1v5h-1zM778 268h1v2h-1zM796 268h1v2h-1zM812 268h1v2h-1zM430 269h1v3h-1zM779 270h1v1h-1zM795 270h1v2h-1zM813 270h1v2h-1zM780 271h1v1h-1zM781 272h1v1h-1zM794 272h1v2h-1zM814 272h1v2h-1zM429 272h1v4h-1zM951 272h1v4h-1zM1030 272h1v5h-1zM357 272h1v7h-1zM782 273h1v1h-1zM783 274h2v1h-2zM793 274h1v2h-1zM815 274h1v2h-1zM785 275h5v1h-5zM816 275h1v1h-1zM790 276h2v1h-2zM817 276h2v1h-2zM792 276h1v2h-1zM428 276h1v3h-1zM950 276h1v5h-1zM819 277h1v1h-1zM1031 277h1v6h-1zM820 278h1v1h-1zM821 279h1v1h-1zM824 279h9v1h-9zM837 279h2v1h-2zM427 279h1v4h-1zM358 279h1v8h-1zM822 280h2v1h-2zM833 280h4v1h-4zM839 280h1v1h-1zM840 281h1v2h-1zM949 281h1v4h-1zM841 283h1v2h-1zM426 283h1v5h-1zM1032 283h1v5h-1zM842 285h1v2h-1zM948 285h1v4h-1zM843 287h1v2h-1zM359 287h1v8h-1zM1033 288h1v4h-1zM425 288h1v6h-1zM844 289h1v2h-1zM947 289h1v3h-1zM845 291h1v4h-1zM946 292h1v2h-1zM1034 292h1v4h-1zM945 294h1v1h-1zM424 294h1v6h-1zM944 295h1v2h-1zM846 295h1v5h-1zM360 295h1v6h-1zM1035 296h1v4h-1zM943 297h1v2h-1zM942 299h1v3h-1zM1036 300h1v4h-1zM847 300h1v5h-1zM423 300h1v7h-1zM361 301h1v5h-1zM941 302h1v2h-1zM940 304h1v3h-1zM1037 304h1v4h-1zM848 305h1v4h-1zM362 306h1v4h-1zM939 307h1v2h-1zM422 307h1v7h-1zM1038 308h1v4h-1zM938 309h1v2h-1zM849 309h1v3h-1zM363 310h1v5h-1zM937 311h1v1h-1zM935 312h2v1h-2zM850 312h1v3h-1zM1039 312h1v3h-1zM934 313h1v1h-1zM933 314h1v2h-1zM421 314h1v7h-1zM851 315h1v3h-1zM1040 315h1v4h-1zM364 315h1v6h-1zM932 316h1v1h-1zM931 317h1v2h-1zM852 318h1v3h-1zM930 319h1v2h-1zM1041 319h1v4h-1zM420 321h1v4h-1zM853 321h1v4h-1zM929 321h1v4h-1zM365 321h1v6h-1zM1042 323h1v3h-1zM418 324h2v1h-2zM416 325h2v1h-2zM854 325h1v3h-1zM928 325h1v4h-1zM415 326h1v2h-1zM1043 326h1v2h-1zM366 327h1v6h-1zM414 328h1v1h-1zM855 328h1v3h-1zM1044 328h1v3h-1zM413 329h1v2h-1zM927 329h1v2h-1zM926 331h1v2h-1zM1045 331h1v2h-1zM412 331h1v3h-1zM856 331h1v3h-1zM925 333h1v1h-1zM1046 333h1v4h-1zM367 333h1v6h-1zM924 334h1v1h-1zM411 334h1v2h-1zM857 334h1v4h-1zM923 335h1v2h-1zM410 336h1v3h-1zM922 337h1v2h-1zM1047 337h1v5h-1zM858 338h1v3h-1zM921 339h1v2h-1zM409 339h1v3h-1zM368 339h1v4h-1zM920 341h1v2h-1zM859 341h1v4h-1zM408 342h1v2h-1zM1048 342h1v5h-1zM919 343h1v3h-1zM369 343h1v5h-1zM407 344h1v2h-1zM405 345h2v1h-2zM860 345h1v4h-1zM403 346h2v1h-2zM918 346h1v2h-1zM401 347h2v1h-2zM1049 347h1v6h-1zM400 348h1v1h-1zM917 348h1v3h-1zM370 348h1v4h-1zM399 349h1v2h-1zM861 349h1v3h-1zM398 351h1v2h-1zM916 351h1v4h-1zM371 352h1v2h-1zM862 352h1v2h-1zM393 353h5v1h-5zM1050 353h1v6h-1zM392 354h1v1h-1zM372 354h1v3h-1zM863 354h1v3h-1zM391 355h1v1h-1zM915 355h1v3h-1zM390 356h1v2h-1zM373 357h1v2h-1zM864 357h1v2h-1zM379 358h2v1h-2zM389 358h1v2h-1zM914 358h1v4h-1zM376 359h3v1h-3zM381 359h2v1h-2zM374 359h1v2h-1zM865 359h1v2h-1zM1051 359h1v6h-1zM375 360h1v1h-1zM383 360h2v1h-2zM388 360h1v2h-1zM385 361h2v1h-2zM866 361h1v1h-1zM387 362h1v1h-1zM867 362h1v2h-1zM913 362h1v4h-1zM868 364h1v1h-1zM869 365h1v1h-1zM1052 365h1v6h-1zM870 366h1v2h-1zM912 366h1v4h-1zM871 368h1v1h-1zM872 369h1v1h-1zM887 369h5v1h-5zM873 370h1v2h-1zM886 370h1v2h-1zM892 370h1v2h-1zM911 370h1v3h-1zM1053 371h1v5h-1zM874 372h1v1h-1zM885 372h1v2h-1zM893 372h1v2h-1zM875 373h1v1h-1zM910 373h1v2h-1zM876 374h1v1h-1zM883 374h2v1h-2zM894 374h1v2h-1zM877 375h1v1h-1zM880 375h3v1h-3zM895 375h1v1h-1zM909 375h1v2h-1zM878 376h2v1h-2zM896 376h2v1h-2zM1054 376h1v6h-1zM898 377h1v1h-1zM908 377h1v2h-1zM899 378h1v2h-1zM906 379h2v1h-2zM1200 379h1v2h-1zM900 380h1v1h-1zM903 380h3v1h-3zM901 381h2v1h-2zM1199 381h1v3h-1zM1055 382h1v4h-1zM1198 384h1v2h-1zM1056 386h1v3h-1zM1197 386h1v3h-1zM1196 389h1v2h-1zM1057 389h1v4h-1zM1195 391h1v2h-1zM1170 392h2v1h-2zM1168 393h2v1h-2zM1172 393h1v1h-1zM1058 393h1v3h-1zM1194 393h1v3h-1zM1166 394h2v1h-2zM1173 394h1v1h-1zM1165 395h1v1h-1zM1174 395h1v1h-1zM1164 395h1v2h-1zM1175 396h1v2h-1zM1059 396h1v3h-1zM1193 396h1v3h-1zM1163 397h1v2h-1zM1176 398h1v2h-1zM1162 399h1v2h-1zM1060 399h1v3h-1zM1192 399h1v3h-1zM1177 400h1v2h-1zM1161 401h1v2h-1zM1178 402h1v2h-1zM1061 402h1v3h-1zM1191 402h1v3h-1zM1072 403h1v2h-1zM1160 403h1v4h-1zM1179 404h1v1h-1zM1073 404h1v2h-1zM1062 405h1v2h-1zM1071 405h1v2h-1zM1180 405h1v2h-1zM1190 405h1v2h-1zM1074 406h1v2h-1zM1063 407h1v1h-1zM1070 407h1v2h-1zM1181 407h1v2h-1zM1189 407h1v3h-1zM1159 407h1v4h-1zM1064 408h1v2h-1zM1075 408h1v3h-1zM1067 409h3v1h-3zM1182 409h1v3h-1zM1065 410h2v1h-2zM1188 410h1v2h-1zM1151 411h5v1h-5zM1076 411h1v2h-1zM1158 411h1v2h-1zM1150 412h1v1h-1zM1156 412h2v1h-2zM1187 412h1v2h-1zM1183 412h1v3h-1zM1149 413h1v1h-1zM1077 413h1v2h-1zM1147 414h2v1h-2zM1186 414h1v1h-1zM1145 415h2v1h-2zM1185 415h1v1h-1zM1078 415h1v2h-1zM1184 415h1v2h-1zM1137 416h2v1h-2zM1144 416h1v1h-1zM1135 417h2v1h-2zM1139 417h1v1h-1zM1143 417h1v1h-1zM1079 417h1v2h-1zM1140 418h1v1h-1zM1142 418h1v1h-1zM1134 418h1v2h-1zM1080 419h1v1h-1zM1141 419h1v1h-1zM1081 420h1v2h-1zM1133 420h1v2h-1zM1082 422h1v1h-1zM1132 422h1v2h-1zM1083 423h1v1h-1zM1084 424h1v2h-1zM1131 424h1v2h-1zM1085 426h3v1h-3zM1088 426h1v2h-1zM1130 426h1v2h-1zM1129 428h1v2h-1zM1089 428h1v3h-1zM1126 430h1v1h-1zM1125 430h1v2h-1zM1128 430h1v2h-1zM1127 431h1v1h-1zM1090 431h1v4h-1zM1124 432h1v2h-1zM1123 434h1v3h-1zM1091 435h1v3h-1zM1122 437h1v2h-1zM1092 438h1v4h-1zM1121 439h1v3h-1zM1120 442h1v3h-1zM1093 442h1v4h-1zM1119 445h1v2h-1zM1094 446h1v5h-1zM1118 447h1v3h-1zM1117 450h1v3h-1zM1095 451h1v4h-1zM1116 453h1v3h-1zM1096 455h1v3h-1zM1115 456h1v2h-1zM1114 458h1v1h-1zM1097 458h1v3h-1zM1113 459h1v2h-1zM1112 461h1v1h-1zM1098 461h1v2h-1zM1111 462h1v2h-1zM1099 463h1v1h-1zM1100 464h2v1h-2zM1110 464h1v3h-1zM1102 465h1v1h-1zM1103 466h1v2h-1zM1109 467h1v2h-1zM1104 468h1v2h-1zM1108 469h1v2h-1zM1107 470h1v1h-1zM1105 470h1v2h-1zM1106 471h1v1h-1z" fill="#ff0000" shape-rendering="crispEdges"/>
<path d="M653 98h3v1h-3zM651 99h2v1h-2zM656 99h2v1h-2zM649 100h2v1h-2zM658 100h1v1h-1zM644 101h5v1h-5zM659 101h2v1h-2zM642 102h2v1h-2zM661 102h1v1h-1zM632 103h1v1h-1zM640 103h2v1h-2zM662 103h1v1h-1zM630 104h2v1h-2zM633 104h2v1h-2zM637 104h3v1h-3zM663 104h1v2h-1zM629 105h1v1h-1zM635 105h2v1h-2zM628 106h1v1h-1zM664 106h1v1h-1zM626 107h2v1h-2zM665 107h2v1h-2zM667 108h3v1h-3zM625 108h1v2h-1zM585 109h1v1h-1zM670 109h2v1h-2zM583 110h2v1h-2zM586 110h1v1h-1zM672 110h1v1h-1zM624 110h1v2h-1zM587 111h2v1h-2zM673 111h1v1h-1zM582 111h1v2h-1zM589 112h1v1h-1zM674 112h2v1h-2zM623 112h1v2h-1zM590 113h1v1h-1zM676 113h4v1h-4zM581 113h1v2h-1zM697 113h1v2h-1zM591 114h1v1h-1zM680 114h2v1h-2zM698 114h1v1h-1zM622 114h1v2h-1zM592 115h1v1h-1zM682 115h2v1h-2zM580 115h1v2h-1zM696 115h1v2h-1zM699 115h1v2h-1zM621 116h1v1h-1zM684 116h2v1h-2zM593 116h1v2h-1zM579 117h1v1h-1zM620 117h1v1h-1zM686 117h4v1h-4zM700 117h1v1h-1zM695 117h1v2h-1zM619 118h1v1h-1zM690 118h3v1h-3zM578 118h1v2h-1zM594 118h1v2h-1zM701 118h1v2h-1zM618 119h1v1h-1zM693 119h2v1h-2zM577 120h1v1h-1zM595 120h1v2h-1zM617 120h1v2h-1zM702 120h1v3h-1zM576 121h1v1h-1zM575 122h1v1h-1zM616 122h1v1h-1zM596 122h1v2h-1zM615 123h1v1h-1zM574 123h1v2h-1zM703 123h1v3h-1zM597 124h1v1h-1zM613 124h2v1h-2zM573 125h1v1h-1zM612 125h1v1h-1zM598 125h1v2h-1zM611 126h1v1h-1zM572 126h1v2h-1zM704 126h1v3h-1zM309 127h17v1h-17zM599 127h1v1h-1zM610 127h1v1h-1zM307 128h2v1h-2zM326 128h2v1h-2zM600 128h1v1h-1zM608 128h2v1h-2zM571 128h1v2h-1zM306 129h1v1h-1zM328 129h1v1h-1zM606 129h2v1h-2zM329 129h1v2h-1zM601 129h1v2h-1zM705 129h1v3h-1zM305 130h1v1h-1zM604 130h2v1h-2zM570 130h1v2h-1zM602 131h2v1h-2zM304 131h1v2h-1zM330 131h1v2h-1zM569 132h1v1h-1zM706 132h1v3h-1zM303 133h1v1h-1zM331 133h1v2h-1zM568 133h1v2h-1zM302 134h1v1h-1zM301 135h1v1h-1zM567 135h1v1h-1zM707 135h1v2h-1zM332 135h1v3h-1zM300 136h1v1h-1zM566 136h1v1h-1zM291 137h9v1h-9zM565 137h1v1h-1zM708 137h1v2h-1zM284 138h7v1h-7zM564 138h1v1h-1zM333 138h1v4h-1zM283 139h1v1h-1zM563 139h1v1h-1zM282 139h1v2h-1zM709 139h1v2h-1zM562 140h1v1h-1zM561 141h1v1h-1zM281 141h1v2h-1zM710 141h1v2h-1zM560 142h1v1h-1zM334 142h1v4h-1zM559 143h1v1h-1zM280 143h1v2h-1zM711 143h1v2h-1zM558 144h1v2h-1zM279 145h1v1h-1zM712 145h1v2h-1zM557 146h1v1h-1zM278 146h1v2h-1zM335 146h1v5h-1zM556 147h1v2h-1zM713 147h1v3h-1zM277 148h1v1h-1zM104 149h3v1h-3zM276 149h1v1h-1zM555 149h1v3h-1zM102 150h2v1h-2zM107 150h9v1h-9zM275 150h1v2h-1zM714 150h1v3h-1zM95 151h1v1h-1zM101 151h1v1h-1zM116 151h2v1h-2zM118 151h1v2h-1zM336 151h1v5h-1zM94 152h1v1h-1zM96 152h2v1h-2zM99 152h2v1h-2zM274 152h1v1h-1zM554 152h1v2h-1zM98 153h1v1h-1zM273 153h1v1h-1zM93 153h1v2h-1zM119 153h1v3h-1zM715 153h1v3h-1zM272 154h1v1h-1zM553 154h1v2h-1zM92 155h1v1h-1zM170 155h1v1h-1zM552 155h1v1h-1zM271 155h1v2h-1zM91 156h1v1h-1zM169 156h1v1h-1zM171 156h2v1h-2zM550 156h2v1h-2zM120 156h1v3h-1zM716 156h1v3h-1zM337 156h1v5h-1zM90 157h1v1h-1zM160 157h2v1h-2zM168 157h1v1h-1zM173 157h2v1h-2zM239 157h3v1h-3zM245 157h5v1h-5zM270 157h1v1h-1zM549 157h1v1h-1zM89 158h1v1h-1zM158 158h2v1h-2zM162 158h2v1h-2zM166 158h2v1h-2zM175 158h2v1h-2zM237 158h2v1h-2zM242 158h3v1h-3zM250 158h2v1h-2zM269 158h1v1h-1zM548 158h1v2h-1zM88 159h1v1h-1zM157 159h1v1h-1zM164 159h2v1h-2zM177 159h1v1h-1zM236 159h1v1h-1zM252 159h2v1h-2zM268 159h1v1h-1zM717 159h1v2h-1zM121 159h1v3h-1zM87 160h1v1h-1zM155 160h2v1h-2zM178 160h2v1h-2zM234 160h2v1h-2zM254 160h1v1h-1zM267 160h1v1h-1zM547 160h1v2h-1zM86 161h1v1h-1zM154 161h1v1h-1zM180 161h2v1h-2zM186 161h1v1h-1zM718 161h1v1h-1zM187 161h1v2h-1zM233 161h1v2h-1zM255 161h1v2h-1zM266 161h1v2h-1zM338 161h1v5h-1zM85 162h1v1h-1zM152 162h2v1h-2zM182 162h4v1h-4zM719 162h1v1h-1zM122 162h1v2h-1zM546 162h1v2h-1zM83 163h2v1h-2zM151 163h1v1h-1zM256 163h1v1h-1zM720 163h1v1h-1zM232 163h1v2h-1zM265 163h1v2h-1zM188 163h1v3h-1zM82 164h1v1h-1zM257 164h1v1h-1zM721 164h1v1h-1zM123 164h1v2h-1zM150 164h1v2h-1zM545 164h1v2h-1zM80 165h2v1h-2zM722 165h1v1h-1zM231 165h1v2h-1zM258 165h1v2h-1zM264 165h1v2h-1zM78 166h2v1h-2zM149 166h1v1h-1zM124 166h1v2h-1zM544 166h1v2h-1zM723 166h1v2h-1zM189 166h1v4h-1zM339 166h1v4h-1zM77 167h1v1h-1zM259 167h5v1h-5zM732 167h10v1h-10zM148 167h1v2h-1zM230 167h1v2h-1zM76 168h1v1h-1zM125 168h2v1h-2zM543 168h1v1h-1zM724 168h8v1h-8zM742 168h2v1h-2zM744 168h1v2h-1zM75 169h1v1h-1zM127 169h8v1h-8zM147 169h1v1h-1zM229 169h1v2h-1zM542 169h1v2h-1zM135 170h2v1h-2zM145 170h2v1h-2zM74 170h1v2h-1zM190 170h1v2h-1zM745 170h1v2h-1zM340 170h1v4h-1zM137 171h2v1h-2zM143 171h2v1h-2zM228 171h1v1h-1zM541 171h1v1h-1zM73 172h1v1h-1zM139 172h4v1h-4zM191 172h1v2h-1zM227 172h1v2h-1zM540 172h1v2h-1zM746 172h1v2h-1zM72 173h1v1h-1zM71 174h1v1h-1zM226 174h1v1h-1zM539 174h1v1h-1zM192 174h1v2h-1zM747 174h1v2h-1zM341 174h1v4h-1zM538 175h1v1h-1zM70 175h1v2h-1zM225 175h1v2h-1zM537 176h1v1h-1zM193 176h1v2h-1zM748 176h1v2h-1zM69 177h1v1h-1zM536 177h1v1h-1zM224 177h1v2h-1zM68 178h1v1h-1zM194 178h1v1h-1zM529 178h2v1h-2zM534 178h2v1h-2zM749 178h1v2h-1zM342 178h1v5h-1zM195 179h1v1h-1zM223 179h1v1h-1zM528 179h1v1h-1zM531 179h3v1h-3zM67 179h1v2h-1zM196 180h1v1h-1zM222 180h1v1h-1zM527 180h1v1h-1zM750 180h1v3h-1zM66 181h1v1h-1zM197 181h5v1h-5zM221 181h1v1h-1zM526 181h1v1h-1zM65 182h1v1h-1zM202 182h6v1h-6zM220 182h1v1h-1zM524 182h2v1h-2zM208 183h2v1h-2zM219 183h1v1h-1zM523 183h1v1h-1zM64 183h1v2h-1zM751 183h1v4h-1zM343 183h1v5h-1zM210 184h1v1h-1zM218 184h1v1h-1zM522 184h1v2h-1zM211 185h1v1h-1zM216 185h2v1h-2zM63 185h1v2h-1zM212 186h1v1h-1zM214 186h2v1h-2zM521 186h1v1h-1zM61 187h2v1h-2zM213 187h1v1h-1zM520 187h1v1h-1zM752 187h1v4h-1zM59 188h2v1h-2zM518 188h2v1h-2zM344 188h1v6h-1zM58 189h1v1h-1zM517 189h1v1h-1zM56 190h2v1h-2zM516 190h1v1h-1zM55 191h1v1h-1zM515 191h1v2h-1zM753 191h1v3h-1zM514 193h1v2h-1zM754 194h1v2h-1zM345 194h1v5h-1zM513 195h1v2h-1zM755 196h1v3h-1zM512 197h1v2h-1zM511 199h1v2h-1zM756 199h1v2h-1zM346 199h1v4h-1zM505 201h6v1h-6zM757 201h1v3h-1zM502 202h3v1h-3zM489 203h6v1h-6zM499 203h3v1h-3zM347 203h1v5h-1zM486 204h3v1h-3zM495 204h4v1h-4zM758 204h1v4h-1zM479 205h3v1h-3zM484 205h2v1h-2zM477 206h2v1h-2zM482 206h2v1h-2zM476 207h1v2h-1zM759 208h1v4h-1zM348 208h1v5h-1zM475 209h1v1h-1zM474 210h1v2h-1zM464 212h1v1h-1zM473 212h1v1h-1zM760 212h1v3h-1zM463 213h1v1h-1zM465 213h1v1h-1zM472 213h1v2h-1zM349 213h1v4h-1zM462 214h1v1h-1zM466 214h1v2h-1zM461 215h1v1h-1zM471 215h1v2h-1zM761 215h1v4h-1zM460 216h1v1h-1zM467 216h2v1h-2zM469 217h2v1h-2zM459 217h1v2h-1zM350 217h1v4h-1zM987 218h1v1h-1zM458 219h1v1h-1zM981 219h2v1h-2zM985 219h2v1h-2zM988 219h2v1h-2zM762 219h1v4h-1zM457 220h1v1h-1zM980 220h1v1h-1zM983 220h2v1h-2zM990 220h2v1h-2zM992 221h1v1h-1zM456 221h1v2h-1zM979 221h1v2h-1zM351 221h1v4h-1zM993 222h1v1h-1zM978 223h1v1h-1zM994 223h2v1h-2zM455 223h1v2h-1zM763 223h1v2h-1zM977 224h1v1h-1zM996 224h2v1h-2zM454 225h1v1h-1zM998 225h1v1h-1zM764 225h1v2h-1zM976 225h1v2h-1zM352 225h1v5h-1zM999 226h1v1h-1zM453 226h1v2h-1zM765 227h1v1h-1zM1000 227h1v1h-1zM975 227h1v2h-1zM452 228h1v1h-1zM1001 228h2v1h-2zM766 228h1v2h-1zM1003 229h2v1h-2zM451 229h1v2h-1zM974 229h1v2h-1zM1005 230h2v1h-2zM767 230h1v2h-1zM353 230h1v5h-1zM1007 231h1v1h-1zM450 231h1v2h-1zM973 231h1v2h-1zM1008 232h2v1h-2zM768 232h1v2h-1zM1010 233h1v1h-1zM449 233h1v2h-1zM972 233h1v2h-1zM1011 234h2v1h-2zM769 234h1v2h-1zM1013 235h2v1h-2zM448 235h1v2h-1zM971 235h1v2h-1zM354 235h1v6h-1zM1015 236h1v1h-1zM770 236h1v3h-1zM447 237h1v2h-1zM970 237h1v2h-1zM1016 237h1v2h-1zM1017 239h1v1h-1zM969 239h1v2h-1zM446 239h1v3h-1zM771 239h1v3h-1zM1018 240h1v2h-1zM968 241h1v1h-1zM355 241h1v6h-1zM967 242h1v2h-1zM1019 242h1v2h-1zM445 242h1v3h-1zM772 242h1v3h-1zM966 244h1v2h-1zM1020 244h1v2h-1zM773 245h1v2h-1zM444 245h1v3h-1zM1021 246h1v1h-1zM965 246h1v2h-1zM1022 247h2v1h-2zM774 247h1v2h-1zM356 247h1v6h-1zM964 248h1v2h-1zM1024 248h1v2h-1zM443 248h1v3h-1zM775 249h1v1h-1zM776 250h1v2h-1zM963 250h1v2h-1zM1025 250h1v4h-1zM442 251h1v2h-1zM777 252h1v1h-1zM962 252h1v2h-1zM778 253h1v1h-1zM441 253h1v2h-1zM357 253h1v7h-1zM800 254h2v1h-2zM779 254h1v2h-1zM961 254h1v3h-1zM1026 254h1v4h-1zM798 255h2v1h-2zM802 255h3v1h-3zM440 255h1v2h-1zM780 256h1v1h-1zM797 256h1v1h-1zM805 256h1v1h-1zM806 256h1v2h-1zM439 257h1v1h-1zM781 257h1v1h-1zM796 257h1v1h-1zM960 257h1v3h-1zM438 258h1v2h-1zM782 258h1v2h-1zM795 258h1v2h-1zM807 258h1v2h-1zM1027 258h1v3h-1zM783 260h1v1h-1zM437 260h1v2h-1zM794 260h1v2h-1zM959 260h1v2h-1zM808 260h1v3h-1zM358 260h1v6h-1zM784 261h2v1h-2zM1028 261h1v4h-1zM786 262h1v1h-1zM793 262h1v1h-1zM436 262h1v3h-1zM958 262h1v3h-1zM787 263h1v1h-1zM792 263h1v1h-1zM809 263h1v2h-1zM788 264h2v1h-2zM791 264h1v1h-1zM790 265h1v1h-1zM810 265h1v1h-1zM435 265h1v2h-1zM957 265h1v2h-1zM1029 265h1v4h-1zM811 266h1v1h-1zM359 266h1v6h-1zM812 267h1v1h-1zM956 267h1v2h-1zM434 267h1v3h-1zM813 268h1v1h-1zM814 269h2v1h-2zM955 269h1v2h-1zM1030 269h1v4h-1zM816 270h1v1h-1zM433 270h1v3h-1zM817 271h1v1h-1zM954 271h1v3h-1zM818 272h1v1h-1zM360 272h1v6h-1zM819 273h6v1h-6zM432 273h1v3h-1zM1031 273h1v4h-1zM825 274h3v1h-3zM953 274h1v4h-1zM828 275h3v1h-3zM831 276h6v1h-6zM431 276h1v3h-1zM837 277h1v1h-1zM1032 277h1v5h-1zM838 278h1v1h-1zM952 278h1v3h-1zM361 278h1v5h-1zM430 279h1v2h-1zM839 279h1v2h-1zM840 281h1v2h-1zM429 281h1v3h-1zM951 281h1v4h-1zM1033 282h1v4h-1zM841 283h1v2h-1zM362 283h1v4h-1zM428 284h1v2h-1zM842 285h1v3h-1zM950 285h1v4h-1zM1034 286h1v2h-1zM427 286h1v3h-1zM363 287h1v5h-1zM843 288h1v2h-1zM1035 288h1v3h-1zM426 289h1v4h-1zM949 289h1v4h-1zM844 290h1v3h-1zM1036 291h1v2h-1zM364 292h1v4h-1zM845 293h1v2h-1zM948 293h1v3h-1zM1037 293h1v3h-1zM425 293h1v4h-1zM846 295h1v3h-1zM947 296h1v2h-1zM1038 296h1v3h-1zM365 296h1v5h-1zM424 297h1v4h-1zM847 298h1v2h-1zM946 298h1v3h-1zM1039 299h1v4h-1zM848 300h1v3h-1zM945 301h1v2h-1zM366 301h1v4h-1zM423 301h1v5h-1zM944 303h1v2h-1zM849 303h1v3h-1zM1040 303h1v3h-1zM943 305h1v2h-1zM367 305h1v5h-1zM850 306h1v3h-1zM1041 306h1v3h-1zM422 306h1v4h-1zM942 307h1v2h-1zM941 309h1v2h-1zM1042 309h1v3h-1zM851 309h1v4h-1zM368 310h1v4h-1zM421 310h1v4h-1zM940 311h1v2h-1zM1043 312h1v3h-1zM939 313h1v2h-1zM852 313h1v3h-1zM369 314h1v4h-1zM420 314h1v4h-1zM938 315h1v3h-1zM1044 315h1v3h-1zM853 316h1v2h-1zM854 318h1v2h-1zM937 318h1v2h-1zM419 318h1v3h-1zM370 318h1v4h-1zM1045 318h1v4h-1zM855 320h1v2h-1zM936 320h1v2h-1zM418 321h1v4h-1zM935 322h1v1h-1zM371 322h1v3h-1zM856 322h1v3h-1zM1046 322h1v3h-1zM933 323h2v1h-2zM932 324h1v1h-1zM372 325h1v1h-1zM931 325h1v1h-1zM417 325h1v2h-1zM857 325h1v3h-1zM1047 325h1v4h-1zM373 326h1v1h-1zM416 326h1v1h-1zM930 326h1v2h-1zM374 327h1v1h-1zM414 327h2v1h-2zM375 328h1v1h-1zM413 328h1v1h-1zM929 328h1v2h-1zM858 328h1v3h-1zM376 329h1v1h-1zM412 329h1v1h-1zM1048 329h1v5h-1zM377 330h1v1h-1zM411 330h1v1h-1zM928 330h1v2h-1zM378 331h1v1h-1zM410 331h1v2h-1zM859 331h1v3h-1zM379 332h1v2h-1zM927 332h1v3h-1zM409 333h1v2h-1zM380 334h1v2h-1zM860 334h1v2h-1zM1049 334h1v5h-1zM408 335h1v1h-1zM926 335h1v3h-1zM407 336h1v1h-1zM381 336h1v2h-1zM861 336h1v3h-1zM406 337h1v2h-1zM382 338h1v1h-1zM925 338h1v2h-1zM383 339h1v1h-1zM405 339h1v1h-1zM862 339h1v3h-1zM1050 339h1v5h-1zM384 340h1v1h-1zM387 340h5v1h-5zM397 340h8v1h-8zM924 340h1v1h-1zM385 341h2v1h-2zM392 341h2v1h-2zM395 341h2v1h-2zM923 341h1v1h-1zM394 342h1v1h-1zM922 342h1v1h-1zM863 342h1v2h-1zM921 343h1v1h-1zM864 344h1v2h-1zM920 344h1v2h-1zM1051 344h1v4h-1zM865 346h1v2h-1zM919 346h1v2h-1zM866 348h1v1h-1zM918 348h1v2h-1zM1052 348h1v5h-1zM867 349h1v1h-1zM868 350h1v1h-1zM917 350h1v2h-1zM869 351h1v1h-1zM870 352h1v2h-1zM916 352h1v2h-1zM1053 353h1v5h-1zM871 354h1v2h-1zM915 354h1v2h-1zM872 356h1v2h-1zM914 356h1v3h-1zM873 358h1v1h-1zM1054 358h1v4h-1zM874 359h1v2h-1zM913 359h1v2h-1zM875 361h1v1h-1zM912 361h1v2h-1zM876 362h2v1h-2zM884 362h5v1h-5zM1055 362h1v4h-1zM878 363h6v1h-6zM889 363h1v1h-1zM911 363h1v2h-1zM890 364h1v2h-1zM910 365h1v2h-1zM891 366h1v1h-1zM1056 366h1v4h-1zM892 367h1v1h-1zM909 367h1v2h-1zM893 368h2v1h-2zM895 369h1v1h-1zM908 369h1v1h-1zM896 370h1v2h-1zM907 370h1v2h-1zM1057 370h1v2h-1zM897 372h1v2h-1zM906 372h1v2h-1zM1058 372h1v3h-1zM898 374h8v1h-8zM1059 375h1v2h-1zM1060 377h1v2h-1zM1061 379h1v2h-1zM1062 381h1v2h-1zM1201 383h1v1h-1zM1063 383h1v2h-1zM1200 384h1v2h-1zM1064 385h1v1h-1zM1065 386h1v1h-1zM1068 386h3v1h-3zM1199 386h1v1h-1zM1066 387h2v1h-2zM1071 387h1v2h-1zM1198 387h1v2h-1zM1072 389h1v2h-1zM1197 389h1v2h-1zM1196 391h1v2h-1zM1073 391h1v3h-1zM1195 393h1v2h-1zM1074 394h1v3h-1zM1194 395h1v2h-1zM1193 397h1v2h-1zM1075 397h1v3h-1zM1168 399h2v1h-2zM1192 399h1v1h-1zM1166 400h2v1h-2zM1170 400h3v1h-3zM1076 400h1v2h-1zM1191 400h1v2h-1zM1164 401h2v1h-2zM1173 401h1v1h-1zM1077 402h1v1h-1zM1163 402h1v1h-1zM1174 402h1v1h-1zM1190 402h1v1h-1zM1162 402h1v2h-1zM1175 403h1v1h-1zM1078 403h1v2h-1zM1189 403h1v2h-1zM1176 404h1v1h-1zM1161 404h1v2h-1zM1079 405h1v1h-1zM1177 405h1v2h-1zM1188 405h1v2h-1zM1080 406h1v1h-1zM1160 406h1v2h-1zM1178 407h1v1h-1zM1081 407h1v2h-1zM1187 407h1v2h-1zM1159 408h1v1h-1zM1179 408h1v2h-1zM1082 409h1v2h-1zM1158 409h1v2h-1zM1186 409h1v2h-1zM1180 410h1v1h-1zM1083 411h2v1h-2zM1185 411h1v1h-1zM1157 411h1v2h-1zM1181 411h1v2h-1zM1085 412h1v1h-1zM1183 412h2v1h-2zM1086 412h1v2h-1zM1182 413h1v1h-1zM1156 413h1v2h-1zM1087 414h1v4h-1zM1154 415h2v1h-2zM1149 416h5v1h-5zM1147 417h2v1h-2zM1146 418h1v1h-1zM1088 418h1v4h-1zM1145 419h1v1h-1zM1143 420h2v1h-2zM1142 421h1v1h-1zM1134 422h4v1h-4zM1140 422h2v1h-2zM1089 422h1v3h-1zM1132 423h2v1h-2zM1138 423h2v1h-2zM1131 424h1v2h-1zM1090 425h1v3h-1zM1130 426h1v2h-1zM1129 428h1v1h-1zM1091 428h1v2h-1zM1128 429h1v2h-1zM1092 430h1v3h-1zM1127 431h1v2h-1zM1124 433h3v1h-3zM1093 433h1v3h-1zM1123 434h1v1h-1zM1122 434h1v2h-1zM1121 436h1v2h-1zM1094 436h1v3h-1zM1120 438h1v2h-1zM1095 439h1v3h-1zM1119 440h1v1h-1zM1118 441h1v2h-1zM1096 442h1v2h-1zM1117 443h1v2h-1zM1097 444h1v2h-1zM1116 445h1v1h-1zM1115 446h1v1h-1zM1098 446h1v2h-1zM1114 447h1v2h-1zM1099 448h1v1h-1zM1113 449h1v1h-1zM1100 449h1v2h-1zM1112 450h1v1h-1zM1101 451h1v1h-1zM1110 451h2v1h-2zM1109 452h1v1h-1zM1102 452h1v2h-1zM1108 453h1v1h-1zM1103 454h2v1h-2zM1107 454h1v1h-1zM1105 455h2v1h-2z" fill="#0000ff" shape-rendering="crispEdges"/>
<rect x="53.5" y="6.5" width="1168" height="572" fill="none" stroke="#000" stroke-width="1" shape-rendering="crispEdges"/>
<path d="M50 8h3v1h-3zM1222 8h3v1h-3zM47 11h6v1h-6zM1222 11h6v1h-6zM50 14h3v1h-3zM1222 14h3v1h-3zM50 17h3v1h-3zM1222 17h3v1h-3zM50 19h3v1h-3zM1222 19h3v1h-3zM50 22h3v1h-3zM1222 22h3v1h-3zM47 25h6v1h-6zM1222 25h6v1h-6zM50 28h3v1h-3zM1222 28h3v1h-3zM50 31h3v1h-3zM1222 31h3v1h-3zM50 33h3v1h-3zM1222 33h3v1h-3zM50 36h3v1h-3zM1222 36h3v1h-3zM47 39h6v1h-6zM1222 39h6v1h-6zM50 42h3v1h-3zM1222 42h3v1h-3zM50 45h3v1h-3zM1222 45h3v1h-3zM50 47h3v1h-3zM1222 47h3v1h-3zM50 50h3v1h-3zM1222 50h3v1h-3zM47 53h6v1h-6zM1222 53h6v1h-6zM50 56h3v1h-3zM1222 56h3v1h-3zM50 59h3v1h-3zM1222 59h3v1h-3zM50 61h3v1h-3zM1222 61h3v1h-3zM50 64h3v1h-3zM1222 64h3v1h-3zM47 67h6v1h-6zM1222 67h6v1h-6zM50 70h3v1h-3zM1222 70h3v1h-3zM50 73h3v1h-3zM1222 73h3v1h-3zM50 75h3v1h-3zM1222 75h3v1h-3zM50 78h3v1h-3zM1222 78h3v1h-3zM47 81h6v1h-6zM1222 81h6v1h-6zM50 84h3v1h-3zM1222 84h3v1h-3zM50 87h3v1h-3zM1222 87h3v1h-3zM50 89h3v1h-3zM1222 89h3v1h-3zM50 92h3v1h-3zM1222 92h3v1h-3zM47 95h6v1h-6zM1222 95h6v1h-6zM50 98h3v1h-3zM1222 98h3v1h-3zM50 101h3v1h-3zM1222 101h3v1h-3zM50 103h3v1h-3zM1222 103h3v1h-3zM50 106h3v1h-3zM1222 106h3v1h-3zM47 109h6v1h-6zM1222 109h6v1h-6zM50 112h3v1h-3zM1222 112h3v1h-3zM50 115h3v1h-3zM1222 115h3v1h-3zM50 117h3v1h-3zM1222 117h3v1h-3zM50 120h3v1h-3zM1222 120h3v1h-3zM47 123h6v1h-6zM1222 123h6v1h-6zM50 126h3v1h-3zM1222 126h3v1h-3zM50 129h3v1h-3zM1222 129h3v1h-3zM50 131h3v1h-3zM1222 131h3v1h-3zM50 134h3v1h-3zM1222 134h3v1h-3zM47 137h6v1h-6zM1222 137h6v1h-6zM50 140h3v1h-3zM1222 140h3v1h-3zM50 143h3v1h-3zM1222 143h3v1h-3zM50 145h3v1h-3zM1222 145h3v1h-3zM50 148h3v1h-3zM1222 148h3v1h-3zM47 151h6v1h-6zM1222 151h6v1h-6zM50 154h3v1h-3zM1222 154h3v1h-3zM50 157h3v1h-3zM1222 157h3v1h-3zM50 159h3v1h-3zM1222 159h3v1h-3zM50 162h3v1h-3zM1222 162h3v1h-3zM47 165h6v1h-6zM1222 165h6v1h-6zM50 168h3v1h-3zM1222 168h3v1h-3zM50 171h3v1h-3zM1222 171h3v1h-3zM50 173h3v1h-3zM1222 173h3v1h-3zM50 176h3v1h-3zM1222 176h3v1h-3zM47 179h6v1h-6zM1222 179h6v1h-6zM50 182h3v1h-3zM1222 182h3v1h-3zM50 185h3v1h-3zM1222 185h3v1h-3zM50 187h3v1h-3zM1222 187h3v1h-3zM50 190h3v1h-3zM1222 190h3v1h-3zM47 193h6v1h-6zM1222 193h6v1h-6zM50 196h3v1h-3zM1222 196h3v1h-3zM50 199h3v1h-3zM1222 199h3v1h-3zM50 201h3v1h-3zM1222 201h3v1h-3zM50 204h3v1h-3zM1222 204h3v1h-3zM47 207h6v1h-6zM1222 207h6v1h-6zM50 210h3v1h-3zM1222 210h3v1h-3zM50 213h3v1h-3zM1222 213h3v1h-3zM50 215h3v1h-3zM1222 215h3v1h-3zM50 218h3v1h-3zM1222 218h3v1h-3zM47 221h6v1h-6zM1222 221h6v1h-6zM50 224h3v1h-3zM1222 224h3v1h-3zM50 227h3v1h-3zM1222 227h3v1h-3zM50 229h3v1h-3zM1222 229h3v1h-3zM50 232h3v1h-3zM1222 232h3v1h-3zM47 235h6v1h-6zM1222 235h6v1h-6zM50 238h3v1h-3zM1222 238h3v1h-3zM50 241h3v1h-3zM1222 241h3v1h-3zM50 243h3v1h-3zM1222 243h3v1h-3zM50 246h3v1h-3zM1222 246h3v1h-3zM47 249h6v1h-6zM1222 249h6v1h-6zM50 252h3v1h-3zM1222 252h3v1h-3zM50 255h3v1h-3zM1222 255h3v1h-3zM50 257h3v1h-3zM1222 257h3v1h-3zM50 260h3v1h-3zM1222 260h3v1h-3zM47 263h6v1h-6zM1222 263h6v1h-6zM50 266h3v1h-3zM1222 266h3v1h-3zM50 269h3v1h-3zM1222 269h3v1h-3zM50 271h3v1h-3zM1222 271h3v1h-3zM50 274h3v1h-3zM1222 274h3v1h-3zM47 277h6v1h-6zM1222 277h6v1h-6zM50 280h3v1h-3zM1222 280h3v1h-3zM50 283h3v1h-3zM1222 283h3v1h-3zM50 285h3v1h-3zM1222 285h3v1h-3zM50 288h3v1h-3zM1222 288h3v1h-3zM47 291h6v1h-6zM1222 291h6v1h-6zM50 294h3v1h-3zM1222 294h3v1h-3zM50 297h3v1h-3zM1222 297h3v1h-3zM50 299h3v1h-3zM1222 299h3v1h-3zM50 302h3v1h-3zM1222 302h3v1h-3zM47 305h6v1h-6zM1222 305h6v1h-6zM50 308h3v1h-3zM1222 308h3v1h-3zM50 311h3v1h-3zM1222 311h3v1h-3zM50 313h3v1h-3zM1222 313h3v1h-3zM50 316h3v1h-3zM1222 316h3v1h-3zM47 319h6v1h-6zM1222 319h6v1h-6zM50 322h3v1h-3zM1222 322h3v1h-3zM50 325h3v1h-3zM1222 325h3v1h-3zM50 327h3v1h-3zM1222 327h3v1h-3zM50 330h3v1h-3zM1222 330h3v1h-3zM47 333h6v1h-6zM1222 333h6v1h-6zM50 336h3v1h-3zM1222 336h3v1h-3zM50 339h3v1h-3zM1222 339h3v1h-3zM50 341h3v1h-3zM1222 341h3v1h-3zM50 344h3v1h-3zM1222 344h3v1h-3zM47 347h6v1h-6zM1222 347h6v1h-6zM50 350h3v1h-3zM1222 350h3v1h-3zM50 353h3v1h-3zM1222 353h3v1h-3zM50 355h3v1h-3zM1222 355h3v1h-3zM50 358h3v1h-3zM1222 358h3v1h-3zM47 361h6v1h-6zM1222 361h6v1h-6zM50 364h3v1h-3zM1222 364h3v1h-3zM50 367h3v1h-3zM1222 367h3v1h-3zM50 369h3v1h-3zM1222 369h3v1h-3zM50 372h3v1h-3zM1222 372h3v1h-3zM47 375h6v1h-6zM1222 375h6v1h-6zM50 378h3v1h-3zM1222 378h3v1h-3zM50 381h3v1h-3zM1222 381h3v1h-3zM50 383h3v1h-3zM1222 383h3v1h-3zM50 386h3v1h-3zM1222 386h3v1h-3zM47 389h6v1h-6zM1222 389h6v1h-6zM50 392h3v1h-3zM1222 392h3v1h-3zM50 395h3v1h-3zM1222 395h3v1h-3zM50 397h3v1h-3zM1222 397h3v1h-3zM50 400h3v1h-3zM1222 400h3v1h-3zM47 403h6v1h-6zM1222 403h6v1h-6zM50 406h3v1h-3zM1222 406h3v1h-3zM50 409h3v1h-3zM1222 409h3v1h-3zM50 411h3v1h-3zM1222 411h3v1h-3zM50 414h3v1h-3zM1222 414h3v1h-3zM47 417h6v1h-6zM1222 417h6v1h-6zM50 420h3v1h-3zM1222 420h3v1h-3zM50 423h3v1h-3zM1222 423h3v1h-3zM50 425h3v1h-3zM1222 425h3v1h-3zM50 428h3v1h-3zM1222 428h3v1h-3zM47 431h6v1h-6zM1222 431h6v1h-6zM50 434h3v1h-3zM1222 434h3v1h-3zM50 437h3v1h-3zM1222 437h3v1h-3zM50 439h3v1h-3zM1222 439h3v1h-3zM50 442h3v1h-3zM1222 442h3v1h-3zM47 445h6v1h-6zM1222 445h6v1h-6zM50 448h3v1h-3zM1222 448h3v1h-3zM50 451h3v1h-3zM1222 451h3v1h-3zM50 453h3v1h-3zM1222 453h3v1h-3zM50 456h3v1h-3zM1222 456h3v1h-3zM47 459h6v1h-6zM1222 459h6v1h-6zM50 462h3v1h-3zM1222 462h3v1h-3zM50 465h3v1h-3zM1222 465h3v1h-3zM50 467h3v1h-3zM1222 467h3v1h-3zM50 470h3v1h-3zM1222 470h3v1h-3zM47 473h6v1h-6zM1222 473h6v1h-6zM50 476h3v1h-3zM1222 476h3v1h-3zM50 479h3v1h-3zM1222 479h3v1h-3zM50 481h3v1h-3zM1222 481h3v1h-3zM50 484h3v1h-3zM1222 484h3v1h-3zM47 487h6v1h-6zM1222 487h6v1h-6zM50 490h3v1h-3zM1222 490h3v1h-3zM50 493h3v1h-3zM1222 493h3v1h-3zM50 495h3v1h-3zM1222 495h3v1h-3zM50 498h3v1h-3zM1222 498h3v1h-3zM47 501h6v1h-6zM1222 501h6v1h-6zM50 504h3v1h-3zM1222 504h3v1h-3zM50 507h3v1h-3zM1222 507h3v1h-3zM50 509h3v1h-3zM1222 509h3v1h-3zM50 512h3v1h-3zM1222 512h3v1h-3zM47 515h6v1h-6zM1222 515h6v1h-6zM50 518h3v1h-3zM1222 518h3v1h-3zM50 521h3v1h-3zM1222 521h3v1h-3zM50 523h3v1h-3zM1222 523h3v1h-3zM50 526h3v1h-3zM1222 526h3v1h-3zM47 529h6v1h-6zM1222 529h6v1h-6zM50 532h3v1h-3zM1222 532h3v1h-3zM50 535h3v1h-3zM1222 535h3v1h-3zM50 537h3v1h-3zM1222 537h3v1h-3zM50 540h3v1h-3zM1222 540h3v1h-3zM47 543h6v1h-6zM1222 543h6v1h-6zM50 546h3v1h-3zM1222 546h3v1h-3zM50 549h3v1h-3zM1222 549h3v1h-3zM50 551h3v1h-3zM1222 551h3v1h-3zM50 554h3v1h-3zM1222 554h3v1h-3zM47 557h6v1h-6zM1222 557h6v1h-6zM50 560h3v1h-3zM1222 560h3v1h-3zM50 563h3v1h-3zM1222 563h3v1h-3zM50 565h3v1h-3zM1222 565h3v1h-3zM50 568h3v1h-3zM1222 568h3v1h-3zM47 571h6v1h-6zM1222 571h6v1h-6zM50 574h3v1h-3zM1222 574h3v1h-3z" fill="#000" shape-rendering="crispEdges"/>
<text x="45.2" y="15.3" text-anchor="end" style="letter-spacing:-0.25px">173 500</text>
<text x="1229.5" y="15.3">173 500</text>
<text x="45.2" y="29.3" text-anchor="end" style="letter-spacing:-0.25px">173 000</text>
<text x="1229.5" y="29.3">173 000</text>
<text x="45.2" y="43.3" text-anchor="end" style="letter-spacing:-0.25px">172 500</text>
<text x="1229.5" y="43.3">172 500</text>
<text x="45.2" y="57.3" text-anchor="end" style="letter-spacing:-0.25px">172 000</text>
<text x="1229.5" y="57.3">172 000</text>
<text x="45.2" y="71.3" text-anchor="end" style="letter-spacing:-0.25px">171 500</text>
<text x="1229.5" y="71.3">171 500</text>
<text x="45.2" y="85.3" text-anchor="end" style="letter-spacing:-0.25px">171 000</text>
<text x="1229.5" y="85.3">171 000</text>
<text x="45.2" y="99.3" text-anchor="end" style="letter-spacing:-0.25px">170 500</text>
<text x="1229.5" y="99.3">170 500</text>
<text x="45.2" y="113.3" text-anchor="end" style="letter-spacing:-0.25px">170 000</text>
<text x="1229.5" y="113.3">170 000</text>
<text x="45.2" y="127.3" text-anchor="end" style="letter-spacing:-0.25px">169 500</text>
<text x="1229.5" y="127.3">169 500</text>
<text x="45.2" y="141.3" text-anchor="end" style="letter-spacing:-0.25px">169 000</text>
<text x="1229.5" y="141.3">169 000</text>
<text x="45.2" y="155.3" text-anchor="end" style="letter-spacing:-0.25px">168 500</text>
<text x="1229.5" y="155.3">168 500</text>
<text x="45.2" y="169.3" text-anchor="end" style="letter-spacing:-0.25px">168 000</text>
<text x="1229.5" y="169.3">168 000</text>
<text x="45.2" y="183.3" text-anchor="end" style="letter-spacing:-0.25px">167 500</text>
<text x="1229.5" y="183.3">167 500</text>
<text x="45.2" y="197.3" text-anchor="end" style="letter-spacing:-0.25px">167 000</text>
<text x="1229.5" y="197.3">167 000</text>
<text x="45.2" y="211.3" text-anchor="end" style="letter-spacing:-0.25px">166 500</text>
<text x="1229.5" y="211.3">166 500</text>
<text x="45.2" y="225.3" text-anchor="end" style="letter-spacing:-0.25px">166 000</text>
<text x="1229.5" y="225.3">166 000</text>
<text x="45.2" y="239.3" text-anchor="end" style="letter-spacing:-0.25px">165 500</text>
<text x="1229.5" y="239.3">165 500</text>
<text x="45.2" y="253.3" text-anchor="end" style="letter-spacing:-0.25px">165 000</text>
<text x="1229.5" y="253.3">165 000</text>
<text x="45.2" y="267.3" text-anchor="end" style="letter-spacing:-0.25px">164 500</text>
<text x="1229.5" y="267.3">164 500</text>
<text x="45.2" y="281.3" text-anchor="end" style="letter-spacing:-0.25px">164 000</text>
<text x="1229.5" y="281.3">164 000</text>
<text x="45.2" y="295.3" text-anchor="end" style="letter-spacing:-0.25px">163 500</text>
<text x="1229.5" y="295.3">163 500</text>
<text x="45.2" y="309.3" text-anchor="end" style="letter-spacing:-0.25px">163 000</text>
<text x="1229.5" y="309.3">163 000</text>
<text x="45.2" y="323.3" text-anchor="end" style="letter-spacing:-0.25px">162 500</text>
<text x="1229.5" y="323.3">162 500</text>
<text x="45.2" y="337.3" text-anchor="end" style="letter-spacing:-0.25px">162 000</text>
<text x="1229.5" y="337.3">162 000</text>
<text x="45.2" y="351.3" text-anchor="end" style="letter-spacing:-0.25px">161 500</text>
<text x="1229.5" y="351.3">161 500</text>
<text x="45.2" y="365.3" text-anchor="end" style="letter-spacing:-0.25px">161 000</text>
<text x="1229.5" y="365.3">161 000</text>
<text x="45.2" y="379.3" text-anchor="end" style="letter-spacing:-0.25px">160 500</text>
<text x="1229.5" y="379.3">160 500</text>
<text x="45.2" y="393.3" text-anchor="end" style="letter-spacing:-0.25px">160 000</text>
<text x="1229.5" y="393.3">160 000</text>
<text x="45.2" y="407.3" text-anchor="end" style="letter-spacing:-0.25px">159 500</text>
<text x="1229.5" y="407.3">159 500</text>
<text x="45.2" y="421.3" text-anchor="end" style="letter-spacing:-0.25px">159 000</text>
<text x="1229.5" y="421.3">159 000</text>
<text x="45.2" y="435.3" text-anchor="end" style="letter-spacing:-0.25px">158 500</text>
<text x="1229.5" y="435.3">158 500</text>
<text x="45.2" y="449.3" text-anchor="end" style="letter-spacing:-0.25px">158 000</text>
<text x="1229.5" y="449.3">158 000</text>
<text x="45.2" y="463.3" text-anchor="end" style="letter-spacing:-0.25px">157 500</text>
<text x="1229.5" y="463.3">157 500</text>
<text x="45.2" y="477.3" text-anchor="end" style="letter-spacing:-0.25px">157 000</text>
<text x="1229.5" y="477.3">157 000</text>
<text x="45.2" y="491.3" text-anchor="end" style="letter-spacing:-0.25px">156 500</text>
<text x="1229.5" y="491.3">156 500</text>
<text x="45.2" y="505.3" text-anchor="end" style="letter-spacing:-0.25px">156 000</text>
<text x="1229.5" y="505.3">156 000</text>
<text x="45.2" y="519.3" text-anchor="end" style="letter-spacing:-0.25px">155 500</text>
<text x="1229.5" y="519.3">155 500</text>
<text x="45.2" y="533.3" text-anchor="end" style="letter-spacing:-0.25px">155 000</text>
<text x="1229.5" y="533.3">155 000</text>
<text x="45.2" y="547.3" text-anchor="end" style="letter-spacing:-0.25px">154 500</text>
<text x="1229.5" y="547.3">154 500</text>
<text x="45.2" y="561.3" text-anchor="end" style="letter-spacing:-0.25px">154 000</text>
<text x="1229.5" y="561.3">154 000</text>
<text x="45.2" y="575.3" text-anchor="end" style="letter-spacing:-0.25px">153 500</text>
<text x="1229.5" y="575.3">153 500</text>
<svg x="1229" y="0" width="48" height="600" overflow="hidden">
<rect x="0" y="74.9" width="48" height="12.6" fill="#808080"/>
<text x="0.5" y="85.3">171000.06</text>
<rect x="0" y="217.8" width="48" height="12.6" fill="#808080"/>
<text x="0.5" y="228.2">165895.49</text>
<rect x="0" y="288.5" width="48" height="12.6" fill="#808080"/>
<text x="0.5" y="298.9">163370.66</text>
<rect x="0" y="523.0" width="48" height="12.6" fill="#808080"/>
<text x="0.5" y="533.4">154995.20</text>
</svg>
<rect x="1227.5" y="346.5" width="43" height="14" fill="#fff" stroke="#000" stroke-width="1" shape-rendering="crispEdges"/>
<text x="1229.5" y="357.3">161 285</text>
<g shape-rendering="crispEdges"><rect x="25" y="591" width="15" height="1" fill="#000"/><rect x="136" y="591" width="15" height="1" fill="#f00"/><rect x="299" y="591" width="15" height="1" fill="#00f"/></g>
<text class="l" x="50.5" y="595.3">RIM2 [Цена]</text>
<text class="l" x="161" y="595.3">RIM2 [Moving Average]</text>
<text class="l" x="324" y="595.3">RIM2 [Moving Average]</text>
<g shape-rendering="crispEdges"><rect x="3" y="600" width="1274" height="1" fill="#d6d2c8"/><rect x="3" y="601" width="1274" height="1" fill="#848484"/></g>
<g shape-rendering="crispEdges"><rect x="3" y="712" width="1274" height="1" fill="#d6d2c8"/><rect x="3" y="713" width="1274" height="1" fill="#848484"/></g>
<path d="M98.5 610V690M144.5 610V690M190.5 610V690M236.5 610V690M282.5 610V690M329.5 610V690M375.5 610V690M421.5 610V690M467.5 610V690M513.5 610V690M559.5 610V690M605.5 610V690M651.5 610V690M697.5 610V690M744.5 610V690M790.5 610V690M836.5 610V690M882.5 610V690M928.5 610V690M974.5 610V690M1020.5 610V690M1066.5 610V690M1112.5 610V690M1159.5 610V690" stroke="#767676" stroke-width="1" stroke-dasharray="3 3" fill="none" shape-rendering="crispEdges"/>
<rect x="54" y="644" width="1167" height="1" fill="#000" shape-rendering="crispEdges"/>
<polyline points="56.0,628.0 58.4,631.1 61.2,633.6 65.9,637.7 72.5,639.2 80.0,640.1 87.4,641.4 96.8,642.0 106.2,643.3 113.6,644.2 120.2,646.1 123.9,649.9 126.8,650.8 131.4,649.9 136.1,648.6 143.6,647.4 147.3,645.2 154.8,642.4 160.4,641.4 169.8,642.4 177.3,644.2 184.8,645.6 189.5,646.1 194.1,650.4 199.8,650.4 205.4,648.9 212.9,648.0 218.5,646.7 224.1,642.9 229.7,639.6 235.3,638.1 239.1,638.1 244.7,639.9 250.3,642.9 255.9,645.6 259.7,646.7 264.3,646.7 268.1,644.8 272.8,642.4 278.4,640.5 284.0,639.2 285.6,638.6 291.2,640.5 298.7,642.4 308.1,642.0 317.4,642.9 324.9,643.7 330.5,646.1 334.3,648.9 339.9,657.4 345.5,663.9 354.9,668.6 360.5,671.4 367.0,671.8 371.7,669.5 377.3,662.0 384.8,655.5 392.3,648.0 399.8,644.2 407.3,641.4 412.9,639.2 419.5,638.6 424.1,633.0 428.8,628.7 435.4,628.0 442.9,630.2 450.3,632.5 457.8,634.9 464.4,637.7 470.0,641.4 476.6,642.0 484.0,642.9 491.5,643.7 502.8,643.7 512.1,642.9 517.5,640.5 523.1,639.6 530.6,640.5 538.1,641.1 543.7,640.5 549.3,638.6 556.8,637.7 566.2,638.1 575.5,637.7 584.9,637.7 590.5,641.1 596.1,646.1 600.8,649.5 605.5,649.5 611.1,647.1 616.7,644.2 622.3,642.4 627.0,639.6 631.7,638.6 637.3,641.1 644.8,642.4 652.3,643.3 659.8,645.2 667.2,647.1 674.7,648.0 682.2,647.4 689.7,646.7 697.2,646.1 701.9,645.6 706.6,649.9 712.2,653.0 716.9,654.5 721.5,654.5 727.1,650.8 732.8,648.0 738.4,645.6 744.0,644.8 745.6,645.6 751.2,648.9 756.8,653.0 761.5,657.4 767.1,657.9 773.7,657.4 779.3,656.4 784.9,653.0 789.6,651.7 794.3,648.0 799.0,644.2 804.6,642.9 809.3,645.6 814.9,647.4 822.4,648.0 829.9,646.1 837.3,645.6 843.0,648.9 848.6,653.0 854.2,656.4 859.8,657.9 865.4,657.4 871.0,655.5 878.5,653.6 884.1,648.9 889.8,646.7 899.1,647.1 906.6,645.6 912.2,640.5 917.8,637.7 925.3,635.8 932.8,634.9 944.0,634.9 951.5,632.1 959.0,630.6 964.6,631.7 971.2,632.5 975.6,634.0 981.2,635.4 986.8,639.2 994.3,644.2 1001.8,648.0 1009.3,648.9 1016.8,649.9 1026.2,652.3 1034.6,659.2 1044.9,660.7 1050.5,663.5 1056.1,664.8 1061.7,663.9 1067.3,658.3 1073.0,653.6 1082.3,652.3 1089.8,651.7 1095.4,654.5 1102.9,654.5 1108.5,650.8 1114.1,646.1 1119.8,641.1 1124.4,638.1 1132.9,637.3 1140.3,638.6 1147.8,639.6 1155.3,641.4 1160.9,639.6 1166.6,639.2 1174.0,642.4 1180.6,646.7 1187.1,647.1 1191.8,644.2 1197.4,639.9 1201.7,638.6" fill="none" stroke="#ff0000" stroke-width="2" stroke-linejoin="round" stroke-linecap="round" shape-rendering="crispEdges"/>
<polyline points="56.6,643.7 59.4,648.0 62.2,650.8 64.6,652.1 67.8,648.9 72.5,644.2 76.2,640.5 80.0,639.9 82.8,644.8 85.6,644.8 88.4,642.4 92.1,641.1 96.8,639.9 99.0,644.2 106.2,644.8 109.5,647.1 120.2,647.1 122.6,654.5 126.2,662.0 129.6,657.4 133.3,648.9 136.1,643.7 143.6,642.9 147.3,640.5 152.0,634.9 155.8,634.9 159.5,637.7 162.3,639.6 165.7,645.6 169.8,645.6 172.6,642.9 179.2,648.9 185.7,648.9 188.9,646.1 191.9,654.5 195.6,660.2 198.8,657.4 202.6,648.9 206.3,644.2 209.1,642.9 211.9,643.3 214.7,647.4 217.5,644.2 221.3,638.6 226.0,634.9 230.6,632.5 235.3,631.1 238.1,636.8 241.9,640.5 245.6,646.7 251.2,648.6 255.9,651.7 261.5,656.0 265.3,648.0 268.1,637.7 271.8,634.0 274.6,633.0 277.4,633.0 281.2,634.9 284.0,634.0 288.4,641.4 294.0,648.0 300.6,648.0 304.3,642.4 308.1,639.2 311.8,639.2 315.6,644.2 320.2,646.7 324.9,646.7 330.5,648.0 333.4,652.7 336.2,663.9 339.9,676.1 344.6,681.7 347.4,680.8 350.2,676.1 354.9,674.2 357.7,674.2 360.5,677.0 363.3,675.1 367.0,674.8 369.9,669.5 373.6,658.3 376.4,646.1 379.2,639.6 382.0,638.1 385.8,639.9 388.6,639.6 390.8,634.9 394.2,634.9 396.4,638.1 399.8,637.3 402.6,638.6 406.4,640.5 409.2,637.7 412.9,634.0 415.7,634.0 418.9,639.2 421.3,632.1 424.1,621.8 426.9,616.2 429.8,616.7 433.5,620.8 437.2,628.3 441.0,634.0 443.8,637.3 446.6,636.8 449.4,634.9 452.2,636.2 456.0,637.3 459.7,640.5 465.3,642.9 468.1,650.8 470.9,654.2 473.7,651.7 476.6,644.2 479.4,638.1 482.2,639.6 485.0,643.7 491.5,644.8 495.3,646.7 501.8,646.7 505.6,643.3 512.1,643.3 515.6,636.8 518.4,634.0 521.2,634.9 525.0,637.7 528.7,639.6 531.5,640.5 535.3,644.8 539.0,644.8 542.8,641.4 546.5,634.9 550.2,634.0 554.9,638.1 558.3,634.9 561.5,636.8 564.3,638.6 569.9,639.6 574.6,637.3 584.9,637.3 587.7,641.4 592.4,650.8 597.0,661.1 601.7,661.7 604.5,658.3 607.3,648.9 610.1,642.4 613.0,638.1 615.8,636.2 620.4,635.8 624.2,634.9 627.0,631.1 629.8,635.8 633.5,638.6 637.3,647.4 640.1,648.0 643.8,646.1 647.6,644.2 656.0,643.9 659.8,646.1 663.5,650.8 666.9,654.2 670.1,651.7 673.8,648.9 678.5,648.9 684.1,646.1 695.3,645.2 697.2,641.4 699.1,636.8 701.9,640.5 703.7,644.2 705.6,656.4 708.8,663.5 713.1,663.9 718.7,662.0 723.4,654.5 728.1,644.2 731.8,639.6 735.6,637.7 738.4,637.3 742.1,639.6 745.6,643.3 749.4,653.6 753.1,662.0 756.8,666.7 760.6,668.0 764.7,667.6 768.1,661.1 771.8,655.5 777.4,654.2 783.1,648.9 788.7,643.7 792.4,642.4 796.2,634.9 799.0,629.8 802.1,629.8 805.5,637.7 808.9,646.1 811.5,656.8 814.9,657.9 818.6,653.0 822.4,650.8 826.1,646.1 829.9,643.7 833.6,642.9 837.3,642.9 841.1,647.1 844.8,656.4 848.6,663.9 851.4,664.3 854.6,666.7 857.9,664.8 861.7,663.5 866.4,657.4 871.0,650.4 874.8,648.9 878.5,648.0 882.3,643.3 886.9,637.3 889.8,638.1 893.5,646.1 897.2,648.6 900.6,650.8 903.8,648.0 907.5,644.2 910.3,635.8 913.2,629.3 916.0,626.5 918.8,626.8 922.5,629.3 927.2,634.9 930.0,633.0 932.8,633.6 936.6,638.6 939.4,638.6 943.1,635.4 946.9,634.9 950.6,629.3 953.4,624.2 957.1,624.2 960.9,628.3 964.6,633.0 968.4,635.8 973.1,637.7 977.5,639.6 983.1,639.9 985.9,647.1 989.7,648.9 992.8,653.0 997.1,652.3 1001.8,653.0 1007.4,652.7 1012.1,649.9 1016.8,648.9 1022.4,654.5 1026.2,653.6 1029.9,662.0 1035.1,673.3 1040.2,667.6 1044.9,661.7 1048.6,663.9 1052.4,669.5 1056.1,669.5 1059.9,666.7 1062.7,660.2 1065.5,652.7 1068.3,643.3 1072.0,634.9 1074.8,640.5 1078.2,650.8 1081.4,652.3 1085.1,651.7 1087.6,648.0 1089.8,651.7 1092.6,658.3 1095.8,664.3 1098.2,663.9 1101.0,658.3 1104.8,653.6 1108.5,645.2 1111.3,635.8 1115.1,631.1 1119.8,627.4 1124.4,627.4 1128.2,635.8 1134.7,636.2 1138.5,641.4 1141.3,646.7 1145.0,645.6 1147.8,643.3 1152.5,642.9 1156.3,645.2 1159.1,639.6 1163.7,633.0 1167.5,638.6 1171.2,640.5 1174.0,646.1 1176.9,653.0 1180.6,656.4 1184.3,659.8 1187.1,651.7 1190.0,636.8 1192.8,631.1 1195.6,628.3 1200.3,628.3 1203.1,632.1" fill="none" stroke="#0000ff" stroke-width="2" stroke-linejoin="round" stroke-linecap="round" shape-rendering="crispEdges"/>
<rect x="53.5" y="608.5" width="1168" height="82" fill="none" stroke="#000" stroke-width="1" shape-rendering="crispEdges"/>
<path d="M50 684h3v1h-3zM1222 684h3v1h-3zM47 677h6v1h-6zM1222 677h6v1h-6zM50 670h3v1h-3zM1222 670h3v1h-3zM50 664h3v1h-3zM1222 664h3v1h-3zM50 657h3v1h-3zM1222 657h3v1h-3zM50 651h3v1h-3zM1222 651h3v1h-3zM47 644h6v1h-6zM1222 644h6v1h-6zM50 637h3v1h-3zM1222 637h3v1h-3zM50 631h3v1h-3zM1222 631h3v1h-3zM50 624h3v1h-3zM1222 624h3v1h-3zM50 618h3v1h-3zM1222 618h3v1h-3zM47 611h6v1h-6zM1222 611h6v1h-6z" fill="#000" shape-rendering="crispEdges"/>
<text x="45.2" y="615.3" text-anchor="end" style="letter-spacing:-0.25px">0,5</text>
<text x="1229.5" y="615.3">0,5</text>
<text x="45.2" y="648.3" text-anchor="end" style="letter-spacing:-0.25px">0,0</text>
<text x="1229.5" y="648.3">0,0</text>
<text x="45.2" y="681.3" text-anchor="end" style="letter-spacing:-0.25px">-0,5</text>
<text x="1229.5" y="681.3">-0,5</text>
<g shape-rendering="crispEdges"><rect x="25" y="702" width="15" height="2" fill="#f00"/><rect x="135" y="702" width="15" height="2" fill="#00f"/></g>
<text class="l" x="50.5" y="707">RIM2 [TRIX]</text>
<text class="l" x="160.5" y="707">RIM2 [TRIX]</text>
<path d="M56 729h2v42h-2zM59 732h2v39h-2zM63 735h2v36h-2zM66 736h2v35h-2zM69 737h2v34h-2zM73 738h2v33h-2zM76 739h2v32h-2zM79 740h2v31h-2zM82 743h2v28h-2zM86 744h2v27h-2zM89 744h2v27h-2zM92 746h2v25h-2zM96 746h2v25h-2zM99 748h2v23h-2zM102 750h2v21h-2zM106 750h2v21h-2zM109 752h2v19h-2zM112 754h2v17h-2zM115 755h2v16h-2zM119 757h2v14h-2zM122 761h2v10h-2zM125 765h2v6h-2zM129 766h2v5h-2zM132 766h2v5h-2zM135 766h2v5h-2zM138 767h2v4h-2zM142 767h2v4h-2zM145 767h2v4h-2zM148 766h2v5h-2zM152 765h2v6h-2zM155 764h2v7h-2zM158 764h2v7h-2zM162 764h2v7h-2zM165 765h2v6h-2zM168 765h2v6h-2zM171 764h2v7h-2zM175 765h2v6h-2zM178 767h2v4h-2zM181 767h2v4h-2zM185 768h2v3h-2zM188 768h2v3h-2zM191 770h2v2h-2zM194 770h2v5h-2zM198 770h2v6h-2zM201 770h2v5h-2zM204 770h2v6h-2zM208 770h2v5h-2zM211 770h2v5h-2zM214 770h2v6h-2zM218 770h2v4h-2zM221 770h2v3h-2zM224 770h2v2h-2zM227 770h2v1h-2zM231 766h2v5h-2zM234 764h2v7h-2zM237 764h2v7h-2zM241 764h2v7h-2zM244 765h2v6h-2zM247 765h2v6h-2zM250 765h2v6h-2zM254 766h2v5h-2zM257 768h2v3h-2zM267 767h2v4h-2zM270 766h2v5h-2zM274 765h2v6h-2zM277 764h2v7h-2zM280 763h2v8h-2zM283 761h2v10h-2zM287 761h2v10h-2zM290 762h2v9h-2zM293 762h2v9h-2zM297 763h2v8h-2zM300 764h2v7h-2zM303 763h2v8h-2zM306 762h2v9h-2zM310 762h2v9h-2zM313 762h2v9h-2zM316 763h2v8h-2zM320 764h2v7h-2zM323 764h2v7h-2zM326 764h2v7h-2zM330 766h2v5h-2zM333 769h2v2h-2zM336 770h2v5h-2zM339 770h2v10h-2zM343 770h2v16h-2zM346 770h2v21h-2zM349 770h2v24h-2zM353 770h2v28h-2zM356 770h2v32h-2zM359 770h2v37h-2zM362 770h2v41h-2zM366 770h2v44h-2zM369 770h2v46h-2zM372 770h2v47h-2zM376 770h2v44h-2zM379 770h2v42h-2zM382 770h2v40h-2zM386 770h2v39h-2zM389 770h2v36h-2zM392 770h2v33h-2zM395 770h2v30h-2zM399 770h2v27h-2zM402 770h2v25h-2zM405 770h2v23h-2zM409 770h2v19h-2zM412 770h2v16h-2zM415 770h2v14h-2zM418 770h2v12h-2zM422 770h2v5h-2zM425 769h2v2h-2zM428 764h2v7h-2zM432 761h2v10h-2zM435 758h2v13h-2zM438 756h2v15h-2zM442 755h2v16h-2zM445 754h2v17h-2zM448 752h2v19h-2zM451 751h2v20h-2zM455 750h2v21h-2zM458 750h2v21h-2zM461 750h2v21h-2zM465 751h2v20h-2zM468 754h2v17h-2zM471 756h2v15h-2zM474 755h2v16h-2zM478 754h2v17h-2zM481 755h2v16h-2zM484 756h2v15h-2zM488 757h2v14h-2zM491 758h2v13h-2zM494 759h2v12h-2zM498 760h2v11h-2zM501 760h2v11h-2zM504 761h2v10h-2zM507 761h2v10h-2zM511 762h2v9h-2zM514 760h2v11h-2zM517 759h2v12h-2zM521 759h2v12h-2zM524 758h2v13h-2zM527 758h2v13h-2zM530 758h2v13h-2zM534 759h2v12h-2zM537 760h2v11h-2zM540 759h2v12h-2zM544 758h2v13h-2zM547 757h2v14h-2zM550 756h2v15h-2zM554 756h2v15h-2zM557 754h2v17h-2zM560 754h2v17h-2zM563 754h2v17h-2zM567 754h2v17h-2zM570 754h2v17h-2zM573 753h2v18h-2zM577 753h2v18h-2zM580 752h2v19h-2zM583 752h2v19h-2zM586 752h2v19h-2zM590 755h2v16h-2zM593 757h2v14h-2zM596 761h2v10h-2zM600 764h2v7h-2zM603 766h2v5h-2zM606 766h2v5h-2zM610 765h2v6h-2zM613 764h2v7h-2zM616 764h2v7h-2zM619 763h2v8h-2zM623 762h2v9h-2zM626 760h2v11h-2zM629 760h2v11h-2zM633 760h2v11h-2zM636 761h2v10h-2zM639 762h2v9h-2zM642 762h2v9h-2zM646 762h2v9h-2zM649 763h2v8h-2zM652 763h2v8h-2zM656 763h2v8h-2zM659 764h2v7h-2zM662 765h2v6h-2zM666 767h2v4h-2zM669 768h2v3h-2zM672 770h2v1h-2zM685 770h2v2h-2zM689 770h2v2h-2zM692 770h2v2h-2zM695 770h2v2h-2zM698 770h2v1h-2zM702 770h2v2h-2zM705 770h2v5h-2zM708 770h2v8h-2zM712 770h2v10h-2zM715 770h2v12h-2zM718 770h2v15h-2zM722 770h2v15h-2zM725 770h2v15h-2zM728 770h2v14h-2zM731 770h2v13h-2zM735 770h2v11h-2zM738 770h2v10h-2zM741 770h2v10h-2zM745 770h2v9h-2zM748 770h2v11h-2zM751 770h2v13h-2zM754 770h2v16h-2zM758 770h2v19h-2zM761 770h2v21h-2zM764 770h2v24h-2zM768 770h2v24h-2zM771 770h2v25h-2zM774 770h2v26h-2zM778 770h2v26h-2zM781 770h2v26h-2zM784 770h2v25h-2zM787 770h2v24h-2zM791 770h2v23h-2zM794 770h2v20h-2zM797 770h2v16h-2zM801 770h2v14h-2zM804 770h2v13h-2zM807 770h2v12h-2zM810 770h2v15h-2zM814 770h2v15h-2zM817 770h2v15h-2zM820 770h2v15h-2zM824 770h2v14h-2zM827 770h2v13h-2zM830 770h2v12h-2zM833 770h2v12h-2zM837 770h2v11h-2zM840 770h2v11h-2zM843 770h2v13h-2zM847 770h2v16h-2zM850 770h2v18h-2zM853 770h2v21h-2zM857 770h2v22h-2zM860 770h2v24h-2zM863 770h2v25h-2zM866 770h2v26h-2zM870 770h2v25h-2zM873 770h2v25h-2zM876 770h2v25h-2zM880 770h2v24h-2zM883 770h2v22h-2zM886 770h2v19h-2zM889 770h2v18h-2zM893 770h2v19h-2zM896 770h2v18h-2zM899 770h2v17h-2zM903 770h2v17h-2zM906 770h2v16h-2zM909 770h2v13h-2zM913 770h2v8h-2zM916 770h2v5h-2zM919 770h2v2h-2zM922 770h2v1h-2zM926 769h2v2h-2zM929 765h2v6h-2zM932 763h2v8h-2zM936 762h2v9h-2zM939 761h2v10h-2zM942 759h2v12h-2zM945 758h2v13h-2zM949 755h2v16h-2zM952 752h2v19h-2zM955 750h2v21h-2zM959 748h2v23h-2zM962 746h2v25h-2zM965 746h2v25h-2zM969 746h2v25h-2zM972 745h2v26h-2zM975 745h2v26h-2zM978 745h2v26h-2zM982 745h2v26h-2zM985 748h2v23h-2zM988 749h2v22h-2zM992 752h2v19h-2zM995 753h2v18h-2zM998 756h2v15h-2zM1001 758h2v13h-2zM1005 760h2v11h-2zM1008 761h2v10h-2zM1011 763h2v8h-2zM1015 764h2v7h-2zM1018 766h2v5h-2zM1021 769h2v2h-2zM1028 770h2v5h-2zM1031 770h2v9h-2zM1034 770h2v14h-2zM1038 770h2v16h-2zM1041 770h2v19h-2zM1044 770h2v21h-2zM1048 770h2v24h-2zM1051 770h2v28h-2zM1054 770h2v31h-2zM1057 770h2v34h-2zM1061 770h2v35h-2zM1064 770h2v34h-2zM1067 770h2v32h-2zM1071 770h2v29h-2zM1074 770h2v29h-2zM1077 770h2v30h-2zM1081 770h2v30h-2zM1084 770h2v29h-2zM1087 770h2v28h-2zM1090 770h2v30h-2zM1094 770h2v32h-2zM1097 770h2v33h-2zM1100 770h2v32h-2zM1104 770h2v32h-2zM1107 770h2v30h-2zM1110 770h2v26h-2zM1113 770h2v23h-2zM1117 770h2v19h-2zM1120 770h2v16h-2zM1123 770h2v12h-2zM1127 770h2v11h-2zM1130 770h2v8h-2zM1133 770h2v5h-2zM1137 770h2v5h-2zM1140 770h2v5h-2zM1143 770h2v4h-2zM1146 770h2v3h-2zM1160 767h2v4h-2zM1163 765h2v6h-2zM1166 765h2v6h-2zM1169 765h2v6h-2zM1173 766h2v5h-2zM1176 768h2v3h-2zM1179 770h2v1h-2zM1183 770h2v3h-2zM1186 770h2v2h-2zM1189 768h2v3h-2zM1193 766h2v5h-2zM1196 764h2v7h-2zM1199 762h2v9h-2zM1202 761h2v10h-2z" fill="#0000ff" shape-rendering="crispEdges"/>
<path d="M98.5 722V826M144.5 722V826M190.5 722V826M236.5 722V826M282.5 722V826M329.5 722V826M375.5 722V826M421.5 722V826M467.5 722V826M513.5 722V826M559.5 722V826M605.5 722V826M651.5 722V826M697.5 722V826M744.5 722V826M790.5 722V826M836.5 722V826M882.5 722V826M928.5 722V826M974.5 722V826M1020.5 722V826M1066.5 722V826M1112.5 722V826M1159.5 722V826" stroke="#767676" stroke-width="1" stroke-dasharray="3 3" fill="none" shape-rendering="crispEdges"/>
<rect x="54" y="770" width="1167" height="1" fill="#000" shape-rendering="crispEdges"/>
<rect x="53.5" y="720.5" width="1168" height="106" fill="none" stroke="#000" stroke-width="1" shape-rendering="crispEdges"/>
<path d="M50 822h3v1h-3zM1222 822h3v1h-3zM50 819h3v1h-3zM1222 819h3v1h-3zM47 816h6v1h-6zM1222 816h6v1h-6zM50 813h3v1h-3zM1222 813h3v1h-3zM50 810h3v1h-3zM1222 810h3v1h-3zM50 807h3v1h-3zM1222 807h3v1h-3zM50 804h3v1h-3zM1222 804h3v1h-3zM47 801h6v1h-6zM1222 801h6v1h-6zM50 797h3v1h-3zM1222 797h3v1h-3zM50 794h3v1h-3zM1222 794h3v1h-3zM50 791h3v1h-3zM1222 791h3v1h-3zM50 788h3v1h-3zM1222 788h3v1h-3zM47 785h6v1h-6zM1222 785h6v1h-6zM50 782h3v1h-3zM1222 782h3v1h-3zM50 779h3v1h-3zM1222 779h3v1h-3zM50 776h3v1h-3zM1222 776h3v1h-3zM50 773h3v1h-3zM1222 773h3v1h-3zM47 770h6v1h-6zM1222 770h6v1h-6zM50 767h3v1h-3zM1222 767h3v1h-3zM50 764h3v1h-3zM1222 764h3v1h-3zM50 761h3v1h-3zM1222 761h3v1h-3zM50 758h3v1h-3zM1222 758h3v1h-3zM47 755h6v1h-6zM1222 755h6v1h-6zM50 752h3v1h-3zM1222 752h3v1h-3zM50 749h3v1h-3zM1222 749h3v1h-3zM50 746h3v1h-3zM1222 746h3v1h-3zM50 743h3v1h-3zM1222 743h3v1h-3zM47 740h6v1h-6zM1222 740h6v1h-6zM50 736h3v1h-3zM1222 736h3v1h-3zM50 733h3v1h-3zM1222 733h3v1h-3zM50 730h3v1h-3zM1222 730h3v1h-3zM50 727h3v1h-3zM1222 727h3v1h-3zM47 724h6v1h-6zM1222 724h6v1h-6zM50 721h3v1h-3zM1222 721h3v1h-3z" fill="#000" shape-rendering="crispEdges"/>
<text x="45.2" y="728.5" text-anchor="end" style="letter-spacing:-0.25px">1,5</text>
<text x="1229.5" y="728.5">1,5</text>
<text x="45.2" y="743.8" text-anchor="end" style="letter-spacing:-0.25px">1,0</text>
<text x="1229.5" y="743.8">1,0</text>
<text x="45.2" y="759.0" text-anchor="end" style="letter-spacing:-0.25px">0,5</text>
<text x="1229.5" y="759.0">0,5</text>
<text x="45.2" y="774.3" text-anchor="end" style="letter-spacing:-0.25px">0,0</text>
<text x="1229.5" y="774.3">0,0</text>
<text x="45.2" y="789.5" text-anchor="end" style="letter-spacing:-0.25px">-0,5</text>
<text x="1229.5" y="789.5">-0,5</text>
<text x="45.2" y="804.8" text-anchor="end" style="letter-spacing:-0.25px">-1,0</text>
<text x="1229.5" y="804.8">-1,0</text>
<text x="45.2" y="820.0" text-anchor="end" style="letter-spacing:-0.25px">-1,5</text>
<text x="1229.5" y="820.0">-1,5</text>
<rect x="25" y="838" width="15" height="2" fill="#00f" shape-rendering="crispEdges"/>
<text class="m" x="50.5" y="843.2">RIM2 [MACD]</text>
<path d="M53 848h1169v1h-1169zM53 863h1169v1h-1169zM53 848h1v29h-1zM98 848h1v15h-1zM144 848h1v15h-1zM190 848h1v29h-1zM236 848h1v15h-1zM282 848h1v15h-1zM329 848h1v15h-1zM375 848h1v15h-1zM421 848h1v15h-1zM467 848h1v15h-1zM513 848h1v15h-1zM559 848h1v15h-1zM605 848h1v15h-1zM651 848h1v15h-1zM697 848h1v15h-1zM744 848h1v15h-1zM790 848h1v15h-1zM836 848h1v15h-1zM882 848h1v15h-1zM928 848h1v15h-1zM974 848h1v15h-1zM1020 848h1v15h-1zM1066 848h1v15h-1zM1112 848h1v15h-1zM1159 848h1v29h-1z" fill="#000" shape-rendering="crispEdges"/>
<text x="102" y="859.6">28</text>
<text x="148" y="859.6">29</text>
<text x="194" y="859.6">1</text>
<text x="240" y="859.6">2</text>
<text x="286" y="859.6">5</text>
<text x="333" y="859.6">6</text>
<text x="379" y="859.6">7</text>
<text x="425" y="859.6">11</text>
<text x="471" y="859.6">12</text>
<text x="517" y="859.6">13</text>
<text x="563" y="859.6">14</text>
<text x="609" y="859.6">15</text>
<text x="655" y="859.6">16</text>
<text x="701" y="859.6">19</text>
<text x="748" y="859.6">20</text>
<text x="794" y="859.6">21</text>
<text x="840" y="859.6">22</text>
<text x="886" y="859.6">23</text>
<text x="932" y="859.6">26</text>
<text x="978" y="859.6">27</text>
<text x="1024" y="859.6">28</text>
<text x="1070" y="859.6">29</text>
<text x="1116" y="859.6">30</text>
<text x="1163" y="859.6">2</text>
<text class="l" x="194" y="874.6">Mar</text>
<text class="l" x="1162" y="874.6">Apr</text>
<defs><linearGradient id="gA" x1="0" y1="0" x2="0" y2="1"><stop offset="0" stop-color="#c4e84a"/><stop offset="0.55" stop-color="#6fb52c"/><stop offset="1" stop-color="#2f7d14"/></linearGradient>
<linearGradient id="gO" x1="0" y1="0" x2="0" y2="1"><stop offset="0" stop-color="#fbb03b"/><stop offset="1" stop-color="#e0391a"/></linearGradient>
<linearGradient id="gC" x1="0.2" y1="0" x2="0.7" y2="1"><stop offset="0" stop-color="#a6d22e"/><stop offset="0.4" stop-color="#f5a11c"/><stop offset="1" stop-color="#f26422"/></linearGradient></defs>
<rect x="0" y="882" width="1282" height="28" fill="#3f3f3f"/>
<text x="10.6" y="900" textLength="127.4" lengthAdjust="spacing" style="font-size:12px;fill:#dedede;letter-spacing:0">Элитный Трейдер,</text>
<text x="143.2" y="900" textLength="115.2" lengthAdjust="spacing" style="font-size:12px;fill:#dedede;letter-spacing:0">ELITETRADER.RU</text>
<path d="M1167.3 886 L1175 894.8 H1171.2 V902.3 H1164 V894.8 H1159.8 Z" fill="url(#gA)"/>
<rect x="1157.8" y="897.2" width="8.3" height="5.1" rx="0.8" fill="url(#gO)"/>
<text transform="translate(1178.2,900) scale(0.8,1)" style="font-weight:bold;font-size:16.5px;letter-spacing:0;fill:#fff;stroke:#fff;stroke-width:0.45">clip</text>
<circle cx="1209.3" cy="895.7" r="7.6" fill="url(#gC)"/>
<text x="1204.7" y="901.3" style="font-weight:bold;font-size:15.5px;fill:#fff;letter-spacing:0;stroke:#fff;stroke-width:0.3">2</text>
<text transform="translate(1217.2,900) scale(0.81,1)" style="font-weight:bold;font-size:16.5px;letter-spacing:0;fill:#fff;stroke:#fff;stroke-width:0.45">net</text>
<text transform="translate(1238.6,900) scale(0.865,1)" style="font-weight:bold;font-size:16.5px;letter-spacing:0;fill:#8d9393;stroke:#8d9393;stroke-width:0.3">.com</text>
</svg>
</body></html>
